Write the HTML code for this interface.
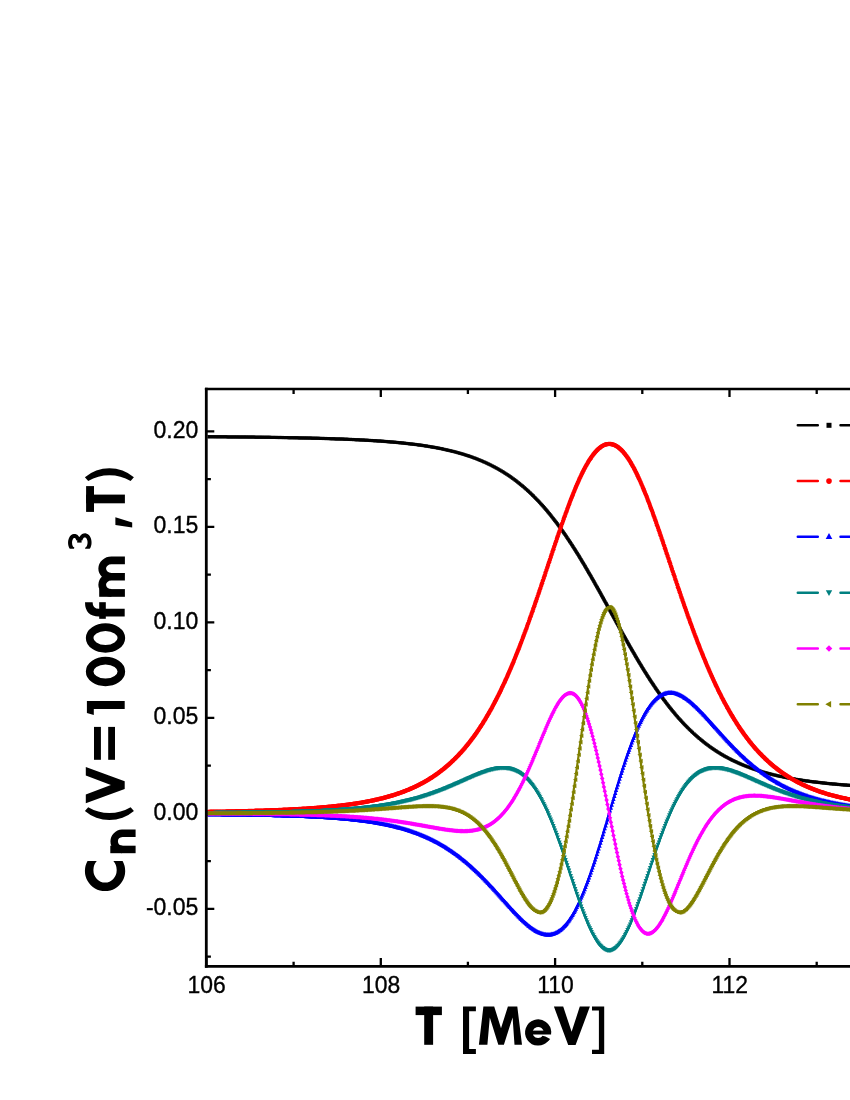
<!DOCTYPE html>
<html><head><meta charset="utf-8"><title>Cn(V=100fm3,T)</title>
<style>
html,body{margin:0;padding:0;background:#fff;}
body{width:850px;height:1100px;position:relative;overflow:hidden;font-family:"Liberation Sans",sans-serif;}
</style></head><body>
<svg width="850" height="1100" viewBox="0 0 850 1100" style="position:absolute;left:0;top:0;will-change:transform">
<rect width="850" height="1100" fill="#fff"/>
<g stroke="#000" stroke-width="2.3" fill="none">
<path d="M206.4 966.3 V958.1 M293.6 966.3 V961.8 M293.6 389.0 V393.9 M380.8 966.3 V958.1 M380.8 389.0 V397.1 M467.9 966.3 V961.8 M467.9 389.0 V393.9 M555.1 966.3 V958.1 M555.1 389.0 V397.1 M642.3 966.3 V961.8 M642.3 389.0 V393.9 M729.5 966.3 V958.1 M729.5 389.0 V397.1 M816.7 966.3 V961.8 M816.7 389.0 V393.9 M206.3 956.7 H210.9 M206.3 908.9 H214.3 M206.3 861.2 H210.9 M206.3 813.4 H214.3 M206.3 765.6 H210.9 M206.3 717.9 H214.3 M206.3 670.1 H210.9 M206.3 622.4 H214.3 M206.3 574.6 H210.9 M206.3 526.8 H214.3 M206.3 479.1 H210.9 M206.3 431.3 H214.3"/>
</g>
<clipPath id="cp"><rect x="207.6" y="380" width="650" height="590"/></clipPath><g clip-path="url(#cp)">
<defs>
<marker id="mk1" markerUnits="userSpaceOnUse" markerWidth="8" markerHeight="8" viewBox="-4 -4 8 8" refX="0" refY="0" fill="#ff0000"><circle r="2.20"/></marker>
<marker id="mk2" markerUnits="userSpaceOnUse" markerWidth="8" markerHeight="8" viewBox="-4 -4 8 8" refX="0" refY="0" fill="#0000ff"><path d="M0 -2.40 L2.10 2.20 L-2.10 2.20 Z"/></marker>
<marker id="mk3" markerUnits="userSpaceOnUse" markerWidth="8" markerHeight="8" viewBox="-4 -4 8 8" refX="0" refY="0" fill="#008080"><path d="M0 2.40 L2.10 -2.20 L-2.10 -2.20 Z"/></marker>
<marker id="mk4" markerUnits="userSpaceOnUse" markerWidth="8" markerHeight="8" viewBox="-4 -4 8 8" refX="0" refY="0" fill="#ff00ff"><path d="M0 -2.30 L2.30 0 L0 2.30 L-2.30 0 Z"/></marker>
<marker id="mk5" markerUnits="userSpaceOnUse" markerWidth="8" markerHeight="8" viewBox="-4 -4 8 8" refX="0" refY="0" fill="#808000"><path d="M-2.30 0 L2.10 -2.30 L2.10 2.30 Z"/></marker>
</defs>
<g fill="none" stroke="#000" stroke-linejoin="round"><defs><polyline id="bk" points="206.4,436.7 207.3,436.7 208.1,436.7 209.0,436.7 209.9,436.7 210.8,436.7 211.6,436.7 212.5,436.7 213.4,436.7 214.2,436.7 215.1,436.8 216.0,436.8 216.9,436.8 217.7,436.8 218.6,436.8 219.5,436.8 220.3,436.8 221.2,436.8 222.1,436.8 223.0,436.8 223.8,436.8 224.7,436.8 225.6,436.8 226.5,436.8 227.3,436.9 228.2,436.9 229.1,436.9 229.9,436.9 230.8,436.9 231.7,436.9 232.6,436.9 233.4,436.9 234.3,436.9 235.2,436.9 236.0,436.9 236.9,436.9 237.8,437.0 238.7,437.0 239.5,437.0 240.4,437.0 241.3,437.0 242.1,437.0 243.0,437.0 243.9,437.0 244.8,437.0 245.6,437.0 246.5,437.0 247.4,437.1 248.2,437.1 249.1,437.1 250.0,437.1 250.9,437.1 251.7,437.1 252.6,437.1 253.5,437.1 254.3,437.1 255.2,437.2 256.1,437.2 257.0,437.2 257.8,437.2 258.7,437.2 259.6,437.2 260.5,437.2 261.3,437.2 262.2,437.2 263.1,437.3 263.9,437.3 264.8,437.3 265.7,437.3 266.6,437.3 267.4,437.3 268.3,437.3 269.2,437.3 270.0,437.3 270.9,437.4 271.8,437.4 272.7,437.4 273.5,437.4 274.4,437.4 275.3,437.4 276.1,437.4 277.0,437.5 277.9,437.5 278.8,437.5 279.6,437.5 280.5,437.5 281.4,437.5 282.2,437.5 283.1,437.6 284.0,437.6 284.9,437.6 285.7,437.6 286.6,437.6 287.5,437.6 288.3,437.7 289.2,437.7 290.1,437.7 291.0,437.7 291.8,437.7 292.7,437.7 293.6,437.7 294.5,437.8 295.3,437.8 296.2,437.8 297.1,437.8 297.9,437.8 298.8,437.9 299.7,437.9 300.6,437.9 301.4,437.9 302.3,437.9 303.2,438.0 304.0,438.0 304.9,438.0 305.8,438.0 306.7,438.0 307.5,438.1 308.4,438.1 309.3,438.1 310.1,438.1 311.0,438.1 311.9,438.2 312.8,438.2 313.6,438.2 314.5,438.2 315.4,438.2 316.2,438.3 317.1,438.3 318.0,438.3 318.9,438.3 319.7,438.4 320.6,438.4 321.5,438.4 322.3,438.4 323.2,438.5 324.1,438.5 325.0,438.5 325.8,438.5 326.7,438.6 327.6,438.6 328.5,438.6 329.3,438.6 330.2,438.7 331.1,438.7 331.9,438.7 332.8,438.8 333.7,438.8 334.6,438.8 335.4,438.9 336.3,438.9 337.2,438.9 338.0,438.9 338.9,439.0 339.8,439.0 340.7,439.0 341.5,439.1 342.4,439.1 343.3,439.1 344.1,439.2 345.0,439.2 345.9,439.2 346.8,439.3 347.6,439.3 348.5,439.4 349.4,439.4 350.2,439.4 351.1,439.5 352.0,439.5 352.9,439.5 353.7,439.6 354.6,439.6 355.5,439.7 356.3,439.7 357.2,439.8 358.1,439.8 359.0,439.8 359.8,439.9 360.7,439.9 361.6,440.0 362.5,440.0 363.3,440.1 364.2,440.1 365.1,440.2 365.9,440.2 366.8,440.3 367.7,440.3 368.6,440.4 369.4,440.4 370.3,440.5 371.2,440.5 372.0,440.6 372.9,440.6 373.8,440.7 374.7,440.7 375.5,440.8 376.4,440.8 377.3,440.9 378.1,441.0 379.0,441.0 379.9,441.1 380.8,441.1 381.6,441.2 382.5,441.3 383.4,441.3 384.2,441.4 385.1,441.5 386.0,441.5 386.9,441.6 387.7,441.7 388.6,441.7 389.5,441.8 390.3,441.9 391.2,442.0 392.1,442.0 393.0,442.1 393.8,442.2 394.7,442.3 395.6,442.3 396.5,442.4 397.3,442.5 398.2,442.6 399.1,442.7 399.9,442.7 400.8,442.8 401.7,442.9 402.6,443.0 403.4,443.1 404.3,443.2 405.2,443.3 406.0,443.4 406.9,443.5 407.8,443.6 408.7,443.7 409.5,443.8 410.4,443.9 411.3,444.0 412.1,444.1 413.0,444.2 413.9,444.3 414.8,444.4 415.6,444.5 416.5,444.6 417.4,444.7 418.2,444.9 419.1,445.0 420.0,445.1 420.9,445.2 421.7,445.3 422.6,445.5 423.5,445.6 424.4,445.7 425.2,445.9 426.1,446.0 427.0,446.1 427.8,446.3 428.7,446.4 429.6,446.6 430.5,446.7 431.3,446.9 432.2,447.0 433.1,447.2 433.9,447.3 434.8,447.5 435.7,447.6 436.6,447.8 437.4,448.0 438.3,448.1 439.2,448.3 440.0,448.5 440.9,448.6 441.8,448.8 442.7,449.0 443.5,449.2 444.4,449.4 445.3,449.6 446.1,449.8 447.0,450.0 447.9,450.2 448.8,450.4 449.6,450.6 450.5,450.8 451.4,451.0 452.2,451.2 453.1,451.4 454.0,451.6 454.9,451.9 455.7,452.1 456.6,452.3 457.5,452.6 458.4,452.8 459.2,453.1 460.1,453.3 461.0,453.6 461.8,453.8 462.7,454.1 463.6,454.3 464.5,454.6 465.3,454.9 466.2,455.2 467.1,455.5 467.9,455.7 468.8,456.0 469.7,456.3 470.6,456.6 471.4,456.9 472.3,457.2 473.2,457.6 474.0,457.9 474.9,458.2 475.8,458.5 476.7,458.9 477.5,459.2 478.4,459.6 479.3,459.9 480.1,460.3 481.0,460.6 481.9,461.0 482.8,461.4 483.6,461.8 484.5,462.1 485.4,462.5 486.2,462.9 487.1,463.3 488.0,463.8 488.9,464.2 489.7,464.6 490.6,465.0 491.5,465.5 492.4,465.9 493.2,466.4 494.1,466.8 495.0,467.3 495.8,467.8 496.7,468.2 497.6,468.7 498.5,469.2 499.3,469.7 500.2,470.2 501.1,470.7 501.9,471.3 502.8,471.8 503.7,472.3 504.6,472.9 505.4,473.4 506.3,474.0 507.2,474.6 508.0,475.1 508.9,475.7 509.8,476.3 510.7,476.9 511.5,477.5 512.4,478.2 513.3,478.8 514.1,479.4 515.0,480.1 515.9,480.7 516.8,481.4 517.6,482.1 518.5,482.8 519.4,483.5 520.2,484.2 521.1,484.9 522.0,485.6 522.9,486.3 523.7,487.1 524.6,487.8 525.5,488.6 526.4,489.4 527.2,490.2 528.1,490.9 529.0,491.7 529.8,492.6 530.7,493.4 531.6,494.2 532.5,495.1 533.3,495.9 534.2,496.8 535.1,497.7 535.9,498.6 536.8,499.5 537.7,500.4 538.6,501.3 539.4,502.2 540.3,503.2 541.2,504.1 542.0,505.1 542.9,506.1 543.8,507.1 544.7,508.1 545.5,509.1 546.4,510.1 547.3,511.1 548.1,512.2 549.0,513.2 549.9,514.3 550.8,515.4 551.6,516.5 552.5,517.6 553.4,518.7 554.2,519.8 555.1,520.9 556.0,522.1 556.9,523.2 557.7,524.4 558.6,525.6 559.5,526.8 560.4,528.0 561.2,529.2 562.1,530.4 563.0,531.6 563.8,532.9 564.7,534.1 565.6,535.4 566.5,536.7 567.3,538.0 568.2,539.3 569.1,540.6 569.9,541.9 570.8,543.2 571.7,544.6 572.6,545.9 573.4,547.3 574.3,548.6 575.2,550.0 576.0,551.4 576.9,552.8 577.8,554.2 578.7,555.6 579.5,557.0 580.4,558.5 581.3,559.9 582.1,561.4 583.0,562.8 583.9,564.3 584.8,565.7 585.6,567.2 586.5,568.7 587.4,570.2 588.2,571.7 589.1,573.2 590.0,574.7 590.9,576.2 591.7,577.8 592.6,579.3 593.5,580.8 594.4,582.4 595.2,583.9 596.1,585.5 597.0,587.0 597.8,588.6 598.7,590.1 599.6,591.7 600.5,593.3 601.3,594.8 602.2,596.4 603.1,598.0 603.9,599.6 604.8,601.2 605.7,602.7 606.6,604.3 607.4,605.9 608.3,607.5 609.2,609.1 610.0,610.7 610.9,612.3 611.8,613.9 612.7,615.5 613.5,617.0 614.4,618.6 615.3,620.2 616.1,621.8 617.0,623.4 617.9,625.0 618.8,626.6 619.6,628.1 620.5,629.7 621.4,631.3 622.2,632.8 623.1,634.4 624.0,636.0 624.9,637.5 625.7,639.1 626.6,640.6 627.5,642.2 628.4,643.7 629.2,645.2 630.1,646.8 631.0,648.3 631.8,649.8 632.7,651.3 633.6,652.8 634.5,654.3 635.3,655.8 636.2,657.3 637.1,658.8 637.9,660.2 638.8,661.7 639.7,663.2 640.6,664.6 641.4,666.0 642.3,667.5 643.2,668.9 644.0,670.3 644.9,671.7 645.8,673.1 646.7,674.5 647.5,675.9 648.4,677.2 649.3,678.6 650.1,679.9 651.0,681.3 651.9,682.6 652.8,683.9 653.6,685.2 654.5,686.5 655.4,687.8 656.2,689.1 657.1,690.3 658.0,691.6 658.9,692.8 659.7,694.1 660.6,695.3 661.5,696.5 662.4,697.7 663.2,698.9 664.1,700.1 665.0,701.2 665.8,702.4 666.7,703.5 667.6,704.7 668.5,705.8 669.3,706.9 670.2,708.0 671.1,709.1 671.9,710.2 672.8,711.2 673.7,712.3 674.6,713.3 675.4,714.4 676.3,715.4 677.2,716.4 678.0,717.4 678.9,718.4 679.8,719.4 680.7,720.3 681.5,721.3 682.4,722.2 683.3,723.2 684.1,724.1 685.0,725.0 685.9,725.9 686.8,726.8 687.6,727.7 688.5,728.5 689.4,729.4 690.2,730.2 691.1,731.1 692.0,731.9 692.9,732.7 693.7,733.5 694.6,734.3 695.5,735.1 696.4,735.9 697.2,736.6 698.1,737.4 699.0,738.1 699.8,738.9 700.7,739.6 701.6,740.3 702.5,741.0 703.3,741.7 704.2,742.4 705.1,743.1 705.9,743.8 706.8,744.4 707.7,745.1 708.6,745.7 709.4,746.4 710.3,747.0 711.2,747.6 712.0,748.2 712.9,748.8 713.8,749.4 714.7,750.0 715.5,750.6 716.4,751.1 717.3,751.7 718.1,752.2 719.0,752.8 719.9,753.3 720.8,753.9 721.6,754.4 722.5,754.9 723.4,755.4 724.2,755.9 725.1,756.4 726.0,756.9 726.9,757.3 727.7,757.8 728.6,758.3 729.5,758.7 730.4,759.2 731.2,759.6 732.1,760.1 733.0,760.5 733.8,760.9 734.7,761.3 735.6,761.7 736.5,762.1 737.3,762.5 738.2,762.9 739.1,763.3 739.9,763.7 740.8,764.1 741.7,764.5 742.6,764.8 743.4,765.2 744.3,765.5 745.2,765.9 746.0,766.2 746.9,766.6 747.8,766.9 748.7,767.2 749.5,767.5 750.4,767.9 751.3,768.2 752.1,768.5 753.0,768.8 753.9,769.1 754.8,769.4 755.6,769.7 756.5,770.0 757.4,770.2 758.2,770.5 759.1,770.8 760.0,771.1 760.9,771.3 761.7,771.6 762.6,771.9 763.5,772.1 764.4,772.4 765.2,772.6 766.1,772.8 767.0,773.1 767.8,773.3 768.7,773.6 769.6,773.8 770.5,774.0 771.3,774.2 772.2,774.4 773.1,774.7 773.9,774.9 774.8,775.1 775.7,775.3 776.6,775.5 777.4,775.7 778.3,775.9 779.2,776.1 780.0,776.3 780.9,776.5 781.8,776.6 782.7,776.8 783.5,777.0 784.4,777.2 785.3,777.4 786.1,777.5 787.0,777.7 787.9,777.9 788.8,778.0 789.6,778.2 790.5,778.4 791.4,778.5 792.2,778.7 793.1,778.8 794.0,779.0 794.9,779.1 795.7,779.3 796.6,779.4 797.5,779.6 798.4,779.7 799.2,779.8 800.1,780.0 801.0,780.1 801.8,780.2 802.7,780.4 803.6,780.5 804.5,780.6 805.3,780.8 806.2,780.9 807.1,781.0 807.9,781.1 808.8,781.2 809.7,781.4 810.6,781.5 811.4,781.6 812.3,781.7 813.2,781.8 814.0,781.9 814.9,782.0 815.8,782.1 816.7,782.2 817.5,782.3 818.4,782.4 819.3,782.5 820.1,782.6 821.0,782.7 821.9,782.8 822.8,782.9 823.6,783.0 824.5,783.1 825.4,783.2 826.2,783.3 827.1,783.4 828.0,783.5 828.9,783.6 829.7,783.7 830.6,783.7 831.5,783.8 832.4,783.9 833.2,784.0 834.1,784.1 835.0,784.1 835.8,784.2 836.7,784.3 837.6,784.4 838.5,784.5 839.3,784.5 840.2,784.6 841.1,784.7 841.9,784.7 842.8,784.8 843.7,784.9 844.6,785.0 845.4,785.0 846.3,785.1 847.2,785.2 848.0,785.2 848.9,785.3 849.8,785.4 850.7,785.4 851.5,785.5 852.4,785.5 853.3,785.6 854.1,785.7 855.0,785.7 855.9,785.8 856.8,785.8 857.6,785.9 858.5,786.0 859.4,786.0 860.3,786.1 861.1,786.1 862.0,786.2 862.9,786.2 863.7,786.3 864.6,786.4 865.5,786.4 866.4,786.5 867.2,786.5 868.1,786.6"/></defs><use href="#bk" stroke-width="3.0"/>
<use href="#bk" stroke-width="0.8" transform="translate(1.1,1.1)"/>
<use href="#bk" stroke-width="0.8" transform="translate(1.1,-1.1)"/>
<use href="#bk" stroke-width="0.8" transform="translate(-1.1,1.1)"/>
<use href="#bk" stroke-width="0.8" transform="translate(-1.1,-1.1)"/>
</g>
<polyline fill="none" stroke="#ff0000" stroke-width="2.2" stroke-linejoin="round" marker-start="url(#mk1)" marker-mid="url(#mk1)" points="206.4,811.9 207.3,811.9 208.1,811.9 209.0,811.9 209.9,811.8 210.8,811.8 211.6,811.8 212.5,811.8 213.4,811.8 214.2,811.8 215.1,811.7 216.0,811.7 216.9,811.7 217.7,811.7 218.6,811.7 219.5,811.7 220.3,811.7 221.2,811.6 222.1,811.6 223.0,811.6 223.8,811.6 224.7,811.6 225.6,811.6 226.5,811.5 227.3,811.5 228.2,811.5 229.1,811.5 229.9,811.5 230.8,811.5 231.7,811.4 232.6,811.4 233.4,811.4 234.3,811.4 235.2,811.4 236.0,811.3 236.9,811.3 237.8,811.3 238.7,811.3 239.5,811.3 240.4,811.2 241.3,811.2 242.1,811.2 243.0,811.2 243.9,811.1 244.8,811.1 245.6,811.1 246.5,811.1 247.4,811.1 248.2,811.0 249.1,811.0 250.0,811.0 250.9,811.0 251.7,810.9 252.6,810.9 253.5,810.9 254.3,810.9 255.2,810.8 256.1,810.8 257.0,810.8 257.8,810.8 258.7,810.7 259.6,810.7 260.5,810.7 261.3,810.7 262.2,810.6 263.1,810.6 263.9,810.6 264.8,810.5 265.7,810.5 266.6,810.5 267.4,810.4 268.3,810.4 269.2,810.4 270.0,810.4 270.9,810.3 271.8,810.3 272.7,810.3 273.5,810.2 274.4,810.2 275.3,810.2 276.1,810.1 277.0,810.1 277.9,810.1 278.8,810.0 279.6,810.0 280.5,809.9 281.4,809.9 282.2,809.9 283.1,809.8 284.0,809.8 284.9,809.7 285.7,809.7 286.6,809.7 287.5,809.6 288.3,809.6 289.2,809.5 290.1,809.5 291.0,809.5 291.8,809.4 292.7,809.4 293.6,809.3 294.5,809.3 295.3,809.2 296.2,809.2 297.1,809.1 297.9,809.1 298.8,809.0 299.7,809.0 300.6,808.9 301.4,808.9 302.3,808.8 303.2,808.8 304.0,808.7 304.9,808.7 305.8,808.6 306.7,808.6 307.5,808.5 308.4,808.4 309.3,808.4 310.1,808.3 311.0,808.3 311.9,808.2 312.8,808.1 313.6,808.1 314.5,808.0 315.4,807.9 316.2,807.9 317.1,807.8 318.0,807.7 318.9,807.7 319.7,807.6 320.6,807.5 321.5,807.5 322.3,807.4 323.2,807.3 324.1,807.2 325.0,807.2 325.8,807.1 326.7,807.0 327.6,806.9 328.5,806.8 329.3,806.8 330.2,806.7 331.1,806.6 331.9,806.5 332.8,806.4 333.7,806.3 334.6,806.2 335.4,806.1 336.3,806.0 337.2,805.9 338.0,805.8 338.9,805.8 339.8,805.7 340.7,805.6 341.5,805.4 342.4,805.3 343.3,805.2 344.1,805.1 345.0,805.0 345.9,804.9 346.8,804.8 347.6,804.7 348.5,804.6 349.4,804.4 350.2,804.3 351.1,804.2 352.0,804.1 352.9,804.0 353.7,803.8 354.6,803.7 355.5,803.6 356.3,803.4 357.2,803.3 358.1,803.1 359.0,803.0 359.8,802.9 360.7,802.7 361.6,802.6 362.5,802.4 363.3,802.3 364.2,802.1 365.1,802.0 365.9,801.8 366.8,801.6 367.7,801.5 368.6,801.3 369.4,801.1 370.3,800.9 371.2,800.8 372.0,800.6 372.9,800.4 373.8,800.2 374.7,800.0 375.5,799.8 376.4,799.6 377.3,799.4 378.1,799.2 379.0,799.0 379.9,798.8 380.8,798.6 381.6,798.4 382.5,798.2 383.4,798.0 384.2,797.7 385.1,797.5 386.0,797.3 386.9,797.0 387.7,796.8 388.6,796.5 389.5,796.3 390.3,796.0 391.2,795.8 392.1,795.5 393.0,795.2 393.8,795.0 394.7,794.7 395.6,794.4 396.5,794.1 397.3,793.8 398.2,793.5 399.1,793.2 399.9,792.9 400.8,792.6 401.7,792.3 402.6,792.0 403.4,791.7 404.3,791.3 405.2,791.0 406.0,790.6 406.9,790.3 407.8,789.9 408.7,789.6 409.5,789.2 410.4,788.8 411.3,788.5 412.1,788.1 413.0,787.7 413.9,787.3 414.8,786.9 415.6,786.5 416.5,786.0 417.4,785.6 418.2,785.2 419.1,784.7 420.0,784.3 420.9,783.8 421.7,783.4 422.6,782.9 423.5,782.4 424.4,781.9 425.2,781.4 426.1,780.9 427.0,780.4 427.8,779.9 428.7,779.4 429.6,778.8 430.5,778.3 431.3,777.7 432.2,777.2 433.1,776.6 433.9,776.0 434.8,775.4 435.7,774.8 436.6,774.2 437.4,773.6 438.3,772.9 439.2,772.3 440.0,771.6 440.9,771.0 441.8,770.3 442.7,769.6 443.5,768.9 444.4,768.2 445.3,767.5 446.1,766.8 447.0,766.0 447.9,765.3 448.8,764.5 449.6,763.7 450.5,762.9 451.4,762.1 452.2,761.3 453.1,760.5 454.0,759.6 454.9,758.8 455.7,757.9 456.6,757.0 457.5,756.1 458.4,755.2 459.2,754.3 460.1,753.3 461.0,752.4 461.8,751.4 462.7,750.4 463.6,749.4 464.5,748.4 465.3,747.4 466.2,746.3 467.1,745.3 467.9,744.2 468.8,743.1 469.7,742.0 470.6,740.8 471.4,739.7 472.3,738.5 473.2,737.4 474.0,736.2 474.9,735.0 475.8,733.7 476.7,732.5 477.5,731.2 478.4,729.9 479.3,728.6 480.1,727.3 481.0,725.9 481.9,724.6 482.8,723.2 483.6,721.8 484.5,720.4 485.4,719.0 486.2,717.5 487.1,716.0 488.0,714.5 488.9,713.0 489.7,711.5 490.6,709.9 491.5,708.4 492.4,706.8 493.2,705.1 494.1,703.5 495.0,701.8 495.8,700.2 496.7,698.5 497.6,696.7 498.5,695.0 499.3,693.2 500.2,691.5 501.1,689.7 501.9,687.8 502.8,686.0 503.7,684.1 504.6,682.2 505.4,680.3 506.3,678.4 507.2,676.4 508.0,674.5 508.9,672.5 509.8,670.4 510.7,668.4 511.5,666.4 512.4,664.3 513.3,662.2 514.1,660.1 515.0,657.9 515.9,655.8 516.8,653.6 517.6,651.4 518.5,649.2 519.4,646.9 520.2,644.7 521.1,642.4 522.0,640.1 522.9,637.8 523.7,635.5 524.6,633.1 525.5,630.8 526.4,628.4 527.2,626.0 528.1,623.6 529.0,621.1 529.8,618.7 530.7,616.2 531.6,613.8 532.5,611.3 533.3,608.8 534.2,606.3 535.1,603.7 535.9,601.2 536.8,598.7 537.7,596.1 538.6,593.5 539.4,591.0 540.3,588.4 541.2,585.8 542.0,583.2 542.9,580.6 543.8,578.0 544.7,575.4 545.5,572.8 546.4,570.1 547.3,567.5 548.1,564.9 549.0,562.3 549.9,559.7 550.8,557.0 551.6,554.4 552.5,551.8 553.4,549.2 554.2,546.6 555.1,544.0 556.0,541.4 556.9,538.8 557.7,536.3 558.6,533.7 559.5,531.2 560.4,528.6 561.2,526.1 562.1,523.6 563.0,521.1 563.8,518.7 564.7,516.2 565.6,513.8 566.5,511.4 567.3,509.0 568.2,506.7 569.1,504.3 569.9,502.0 570.8,499.8 571.7,497.5 572.6,495.3 573.4,493.1 574.3,491.0 575.2,488.8 576.0,486.8 576.9,484.7 577.8,482.7 578.7,480.7 579.5,478.8 580.4,476.9 581.3,475.1 582.1,473.3 583.0,471.5 583.9,469.8 584.8,468.1 585.6,466.5 586.5,464.9 587.4,463.4 588.2,461.9 589.1,460.5 590.0,459.2 590.9,457.9 591.7,456.6 592.6,455.4 593.5,454.3 594.4,453.2 595.2,452.1 596.1,451.2 597.0,450.2 597.8,449.4 598.7,448.6 599.6,447.9 600.5,447.2 601.3,446.6 602.2,446.0 603.1,445.6 603.9,445.1 604.8,444.8 605.7,444.5 606.6,444.2 607.4,444.1 608.3,444.0 609.2,443.9 610.0,444.0 610.9,444.0 611.8,444.2 612.7,444.4 613.5,444.7 614.4,445.0 615.3,445.4 616.1,445.9 617.0,446.4 617.9,447.0 618.8,447.7 619.6,448.4 620.5,449.2 621.4,450.0 622.2,450.9 623.1,451.8 624.0,452.9 624.9,453.9 625.7,455.1 626.6,456.2 627.5,457.5 628.4,458.8 629.2,460.1 630.1,461.5 631.0,463.0 631.8,464.5 632.7,466.0 633.6,467.6 634.5,469.3 635.3,471.0 636.2,472.7 637.1,474.5 637.9,476.3 638.8,478.2 639.7,480.1 640.6,482.1 641.4,484.1 642.3,486.1 643.2,488.2 644.0,490.3 644.9,492.4 645.8,494.6 646.7,496.8 647.5,499.0 648.4,501.3 649.3,503.6 650.1,505.9 651.0,508.2 651.9,510.6 652.8,513.0 653.6,515.4 654.5,517.8 655.4,520.3 656.2,522.7 657.1,525.2 658.0,527.7 658.9,530.2 659.7,532.8 660.6,535.3 661.5,537.9 662.4,540.4 663.2,543.0 664.1,545.6 665.0,548.2 665.8,550.8 666.7,553.4 667.6,556.0 668.5,558.6 669.3,561.2 670.2,563.8 671.1,566.4 671.9,569.0 672.8,571.6 673.7,574.2 674.6,576.8 675.4,579.4 676.3,582.0 677.2,584.6 678.0,587.2 678.9,589.8 679.8,592.3 680.7,594.9 681.5,597.4 682.4,600.0 683.3,602.5 684.1,605.0 685.0,607.5 685.9,610.0 686.8,612.5 687.6,614.9 688.5,617.4 689.4,619.8 690.2,622.2 691.1,624.6 692.0,627.0 692.9,629.4 693.7,631.7 694.6,634.1 695.5,636.4 696.4,638.7 697.2,641.0 698.1,643.3 699.0,645.5 699.8,647.7 700.7,649.9 701.6,652.1 702.5,654.3 703.3,656.5 704.2,658.6 705.1,660.7 705.9,662.8 706.8,664.9 707.7,666.9 708.6,668.9 709.4,670.9 710.3,672.9 711.2,674.9 712.0,676.8 712.9,678.8 713.8,680.7 714.7,682.6 715.5,684.4 716.4,686.3 717.3,688.1 718.1,689.9 719.0,691.7 719.9,693.4 720.8,695.1 721.6,696.9 722.5,698.6 723.4,700.2 724.2,701.9 725.1,703.5 726.0,705.1 726.9,706.7 727.7,708.3 728.6,709.8 729.5,711.4 730.4,712.9 731.2,714.4 732.1,715.8 733.0,717.3 733.8,718.7 734.7,720.1 735.6,721.5 736.5,722.9 737.3,724.3 738.2,725.6 739.1,726.9 739.9,728.2 740.8,729.5 741.7,730.8 742.6,732.0 743.4,733.2 744.3,734.4 745.2,735.6 746.0,736.8 746.9,738.0 747.8,739.1 748.7,740.2 749.5,741.4 750.4,742.4 751.3,743.5 752.1,744.6 753.0,745.6 753.9,746.7 754.8,747.7 755.6,748.7 756.5,749.6 757.4,750.6 758.2,751.6 759.1,752.5 760.0,753.4 760.9,754.3 761.7,755.2 762.6,756.1 763.5,757.0 764.4,757.8 765.2,758.7 766.1,759.5 767.0,760.3 767.8,761.1 768.7,761.9 769.6,762.7 770.5,763.5 771.3,764.2 772.2,765.0 773.1,765.7 773.9,766.4 774.8,767.1 775.7,767.8 776.6,768.5 777.4,769.2 778.3,769.8 779.2,770.5 780.0,771.1 780.9,771.8 781.8,772.4 782.7,773.0 783.5,773.6 784.4,774.2 785.3,774.8 786.1,775.3 787.0,775.9 787.9,776.5 788.8,777.0 789.6,777.5 790.5,778.1 791.4,778.6 792.2,779.1 793.1,779.6 794.0,780.1 794.9,780.6 795.7,781.1 796.6,781.5 797.5,782.0 798.4,782.4 799.2,782.9 800.1,783.3 801.0,783.8 801.8,784.2 802.7,784.6 803.6,785.0 804.5,785.4 805.3,785.8 806.2,786.2 807.1,786.6 807.9,787.0 808.8,787.3 809.7,787.7 810.6,788.1 811.4,788.4 812.3,788.8 813.2,789.1 814.0,789.5 814.9,789.8 815.8,790.1 816.7,790.4 817.5,790.7 818.4,791.1 819.3,791.4 820.1,791.7 821.0,792.0 821.9,792.2 822.8,792.5 823.6,792.8 824.5,793.1 825.4,793.4 826.2,793.6 827.1,793.9 828.0,794.2 828.9,794.4 829.7,794.7 830.6,794.9 831.5,795.1 832.4,795.4 833.2,795.6 834.1,795.8 835.0,796.1 835.8,796.3 836.7,796.5 837.6,796.7 838.5,796.9 839.3,797.1 840.2,797.4 841.1,797.6 841.9,797.8 842.8,797.9 843.7,798.1 844.6,798.3 845.4,798.5 846.3,798.7 847.2,798.9 848.0,799.1 848.9,799.2 849.8,799.4 850.7,799.6 851.5,799.7 852.4,799.9 853.3,800.1 854.1,800.2 855.0,800.4 855.9,800.5 856.8,800.7 857.6,800.8 858.5,801.0 859.4,801.1 860.3,801.3 861.1,801.4 862.0,801.5 862.9,801.7 863.7,801.8 864.6,801.9 865.5,802.1 866.4,802.2 867.2,802.3 868.1,802.4"/>
<polyline fill="none" stroke="#0000ff" stroke-width="2.2" stroke-linejoin="round" marker-start="url(#mk2)" marker-mid="url(#mk2)" points="206.4,814.0 207.3,814.0 208.1,814.0 209.0,814.0 209.9,814.0 210.8,814.1 211.6,814.1 212.5,814.1 213.4,814.1 214.2,814.1 215.1,814.1 216.0,814.1 216.9,814.1 217.7,814.1 218.6,814.1 219.5,814.1 220.3,814.1 221.2,814.1 222.1,814.2 223.0,814.2 223.8,814.2 224.7,814.2 225.6,814.2 226.5,814.2 227.3,814.2 228.2,814.2 229.1,814.2 229.9,814.2 230.8,814.2 231.7,814.3 232.6,814.3 233.4,814.3 234.3,814.3 235.2,814.3 236.0,814.3 236.9,814.3 237.8,814.3 238.7,814.3 239.5,814.4 240.4,814.4 241.3,814.4 242.1,814.4 243.0,814.4 243.9,814.4 244.8,814.4 245.6,814.4 246.5,814.4 247.4,814.5 248.2,814.5 249.1,814.5 250.0,814.5 250.9,814.5 251.7,814.5 252.6,814.5 253.5,814.6 254.3,814.6 255.2,814.6 256.1,814.6 257.0,814.6 257.8,814.6 258.7,814.6 259.6,814.7 260.5,814.7 261.3,814.7 262.2,814.7 263.1,814.7 263.9,814.7 264.8,814.8 265.7,814.8 266.6,814.8 267.4,814.8 268.3,814.8 269.2,814.9 270.0,814.9 270.9,814.9 271.8,814.9 272.7,814.9 273.5,815.0 274.4,815.0 275.3,815.0 276.1,815.0 277.0,815.0 277.9,815.1 278.8,815.1 279.6,815.1 280.5,815.1 281.4,815.1 282.2,815.2 283.1,815.2 284.0,815.2 284.9,815.2 285.7,815.3 286.6,815.3 287.5,815.3 288.3,815.4 289.2,815.4 290.1,815.4 291.0,815.4 291.8,815.5 292.7,815.5 293.6,815.5 294.5,815.5 295.3,815.6 296.2,815.6 297.1,815.6 297.9,815.7 298.8,815.7 299.7,815.7 300.6,815.8 301.4,815.8 302.3,815.8 303.2,815.9 304.0,815.9 304.9,815.9 305.8,816.0 306.7,816.0 307.5,816.1 308.4,816.1 309.3,816.1 310.1,816.2 311.0,816.2 311.9,816.3 312.8,816.3 313.6,816.3 314.5,816.4 315.4,816.4 316.2,816.5 317.1,816.5 318.0,816.6 318.9,816.6 319.7,816.7 320.6,816.7 321.5,816.8 322.3,816.8 323.2,816.9 324.1,816.9 325.0,817.0 325.8,817.0 326.7,817.1 327.6,817.1 328.5,817.2 329.3,817.3 330.2,817.3 331.1,817.4 331.9,817.4 332.8,817.5 333.7,817.6 334.6,817.6 335.4,817.7 336.3,817.8 337.2,817.8 338.0,817.9 338.9,818.0 339.8,818.0 340.7,818.1 341.5,818.2 342.4,818.3 343.3,818.3 344.1,818.4 345.0,818.5 345.9,818.6 346.8,818.7 347.6,818.8 348.5,818.8 349.4,818.9 350.2,819.0 351.1,819.1 352.0,819.2 352.9,819.3 353.7,819.4 354.6,819.5 355.5,819.6 356.3,819.7 357.2,819.8 358.1,819.9 359.0,820.0 359.8,820.1 360.7,820.2 361.6,820.3 362.5,820.4 363.3,820.5 364.2,820.7 365.1,820.8 365.9,820.9 366.8,821.0 367.7,821.1 368.6,821.3 369.4,821.4 370.3,821.5 371.2,821.7 372.0,821.8 372.9,821.9 373.8,822.1 374.7,822.2 375.5,822.4 376.4,822.5 377.3,822.7 378.1,822.8 379.0,823.0 379.9,823.1 380.8,823.3 381.6,823.5 382.5,823.6 383.4,823.8 384.2,824.0 385.1,824.1 386.0,824.3 386.9,824.5 387.7,824.7 388.6,824.9 389.5,825.1 390.3,825.3 391.2,825.5 392.1,825.7 393.0,825.9 393.8,826.1 394.7,826.3 395.6,826.5 396.5,826.7 397.3,827.0 398.2,827.2 399.1,827.4 399.9,827.6 400.8,827.9 401.7,828.1 402.6,828.4 403.4,828.6 404.3,828.9 405.2,829.1 406.0,829.4 406.9,829.7 407.8,829.9 408.7,830.2 409.5,830.5 410.4,830.8 411.3,831.1 412.1,831.4 413.0,831.7 413.9,832.0 414.8,832.3 415.6,832.6 416.5,832.9 417.4,833.3 418.2,833.6 419.1,833.9 420.0,834.3 420.9,834.6 421.7,835.0 422.6,835.3 423.5,835.7 424.4,836.1 425.2,836.5 426.1,836.8 427.0,837.2 427.8,837.6 428.7,838.0 429.6,838.4 430.5,838.8 431.3,839.3 432.2,839.7 433.1,840.1 433.9,840.6 434.8,841.0 435.7,841.5 436.6,841.9 437.4,842.4 438.3,842.9 439.2,843.4 440.0,843.8 440.9,844.3 441.8,844.8 442.7,845.4 443.5,845.9 444.4,846.4 445.3,846.9 446.1,847.5 447.0,848.0 447.9,848.6 448.8,849.1 449.6,849.7 450.5,850.3 451.4,850.9 452.2,851.5 453.1,852.1 454.0,852.7 454.9,853.3 455.7,853.9 456.6,854.6 457.5,855.2 458.4,855.9 459.2,856.5 460.1,857.2 461.0,857.9 461.8,858.6 462.7,859.3 463.6,860.0 464.5,860.7 465.3,861.4 466.2,862.1 467.1,862.9 467.9,863.6 468.8,864.4 469.7,865.1 470.6,865.9 471.4,866.7 472.3,867.5 473.2,868.3 474.0,869.1 474.9,869.9 475.8,870.7 476.7,871.5 477.5,872.3 478.4,873.2 479.3,874.0 480.1,874.9 481.0,875.8 481.9,876.6 482.8,877.5 483.6,878.4 484.5,879.3 485.4,880.2 486.2,881.1 487.1,882.0 488.0,882.9 488.9,883.8 489.7,884.8 490.6,885.7 491.5,886.6 492.4,887.6 493.2,888.5 494.1,889.5 495.0,890.4 495.8,891.4 496.7,892.4 497.6,893.3 498.5,894.3 499.3,895.3 500.2,896.2 501.1,897.2 501.9,898.2 502.8,899.2 503.7,900.1 504.6,901.1 505.4,902.1 506.3,903.1 507.2,904.0 508.0,905.0 508.9,906.0 509.8,906.9 510.7,907.9 511.5,908.8 512.4,909.8 513.3,910.7 514.1,911.7 515.0,912.6 515.9,913.5 516.8,914.4 517.6,915.3 518.5,916.2 519.4,917.1 520.2,918.0 521.1,918.8 522.0,919.7 522.9,920.5 523.7,921.3 524.6,922.1 525.5,922.9 526.4,923.7 527.2,924.4 528.1,925.2 529.0,925.9 529.8,926.5 530.7,927.2 531.6,927.9 532.5,928.5 533.3,929.1 534.2,929.6 535.1,930.2 535.9,930.7 536.8,931.2 537.7,931.6 538.6,932.1 539.4,932.4 540.3,932.8 541.2,933.1 542.0,933.4 542.9,933.7 543.8,933.9 544.7,934.1 545.5,934.2 546.4,934.3 547.3,934.4 548.1,934.4 549.0,934.4 549.9,934.3 550.8,934.2 551.6,934.0 552.5,933.8 553.4,933.6 554.2,933.3 555.1,932.9 556.0,932.5 556.9,932.1 557.7,931.6 558.6,931.0 559.5,930.4 560.4,929.8 561.2,929.1 562.1,928.3 563.0,927.5 563.8,926.6 564.7,925.7 565.6,924.7 566.5,923.7 567.3,922.6 568.2,921.4 569.1,920.2 569.9,919.0 570.8,917.6 571.7,916.3 572.6,914.8 573.4,913.3 574.3,911.8 575.2,910.2 576.0,908.5 576.9,906.8 577.8,905.0 578.7,903.2 579.5,901.3 580.4,899.4 581.3,897.4 582.1,895.4 583.0,893.3 583.9,891.2 584.8,889.0 585.6,886.7 586.5,884.4 587.4,882.1 588.2,879.7 589.1,877.3 590.0,874.9 590.9,872.4 591.7,869.8 592.6,867.3 593.5,864.6 594.4,862.0 595.2,859.3 596.1,856.6 597.0,853.9 597.8,851.1 598.7,848.3 599.6,845.5 600.5,842.6 601.3,839.8 602.2,836.9 603.1,834.0 603.9,831.1 604.8,828.1 605.7,825.2 606.6,822.3 607.4,819.3 608.3,816.4 609.2,813.4 610.0,810.4 610.9,807.5 611.8,804.5 612.7,801.6 613.5,798.7 614.4,795.7 615.3,792.8 616.1,789.9 617.0,787.0 617.9,784.2 618.8,781.3 619.6,778.5 620.5,775.7 621.4,772.9 622.2,770.2 623.1,767.5 624.0,764.8 624.9,762.2 625.7,759.5 626.6,757.0 627.5,754.4 628.4,751.9 629.2,749.5 630.1,747.1 631.0,744.7 631.8,742.4 632.7,740.1 633.6,737.8 634.5,735.6 635.3,733.5 636.2,731.4 637.1,729.4 637.9,727.4 638.8,725.5 639.7,723.6 640.6,721.8 641.4,720.0 642.3,718.3 643.2,716.6 644.0,715.0 644.9,713.5 645.8,712.0 646.7,710.5 647.5,709.2 648.4,707.8 649.3,706.6 650.1,705.4 651.0,704.2 651.9,703.1 652.8,702.1 653.6,701.1 654.5,700.2 655.4,699.3 656.2,698.5 657.1,697.7 658.0,697.0 658.9,696.4 659.7,695.8 660.6,695.2 661.5,694.7 662.4,694.3 663.2,693.9 664.1,693.5 665.0,693.2 665.8,693.0 666.7,692.8 667.6,692.6 668.5,692.5 669.3,692.4 670.2,692.4 671.1,692.4 671.9,692.5 672.8,692.6 673.7,692.7 674.6,692.9 675.4,693.1 676.3,693.4 677.2,693.7 678.0,694.0 678.9,694.4 679.8,694.7 680.7,695.2 681.5,695.6 682.4,696.1 683.3,696.6 684.1,697.2 685.0,697.7 685.9,698.3 686.8,698.9 687.6,699.6 688.5,700.3 689.4,700.9 690.2,701.6 691.1,702.4 692.0,703.1 692.9,703.9 693.7,704.7 694.6,705.5 695.5,706.3 696.4,707.1 697.2,708.0 698.1,708.8 699.0,709.7 699.8,710.6 700.7,711.5 701.6,712.4 702.5,713.3 703.3,714.2 704.2,715.1 705.1,716.1 705.9,717.0 706.8,718.0 707.7,718.9 708.6,719.9 709.4,720.8 710.3,721.8 711.2,722.8 712.0,723.7 712.9,724.7 713.8,725.7 714.7,726.7 715.5,727.6 716.4,728.6 717.3,729.6 718.1,730.6 719.0,731.5 719.9,732.5 720.8,733.5 721.6,734.4 722.5,735.4 723.4,736.4 724.2,737.3 725.1,738.3 726.0,739.2 726.9,740.2 727.7,741.1 728.6,742.0 729.5,743.0 730.4,743.9 731.2,744.8 732.1,745.7 733.0,746.6 733.8,747.5 734.7,748.4 735.6,749.3 736.5,750.2 737.3,751.0 738.2,751.9 739.1,752.8 739.9,753.6 740.8,754.5 741.7,755.3 742.6,756.1 743.4,756.9 744.3,757.7 745.2,758.5 746.0,759.3 746.9,760.1 747.8,760.9 748.7,761.7 749.5,762.4 750.4,763.2 751.3,763.9 752.1,764.7 753.0,765.4 753.9,766.1 754.8,766.8 755.6,767.5 756.5,768.2 757.4,768.9 758.2,769.6 759.1,770.3 760.0,770.9 760.9,771.6 761.7,772.2 762.6,772.9 763.5,773.5 764.4,774.1 765.2,774.7 766.1,775.3 767.0,775.9 767.8,776.5 768.7,777.1 769.6,777.7 770.5,778.2 771.3,778.8 772.2,779.3 773.1,779.9 773.9,780.4 774.8,780.9 775.7,781.4 776.6,782.0 777.4,782.5 778.3,783.0 779.2,783.4 780.0,783.9 780.9,784.4 781.8,784.9 782.7,785.3 783.5,785.8 784.4,786.2 785.3,786.7 786.1,787.1 787.0,787.5 787.9,788.0 788.8,788.4 789.6,788.8 790.5,789.2 791.4,789.6 792.2,790.0 793.1,790.3 794.0,790.7 794.9,791.1 795.7,791.5 796.6,791.8 797.5,792.2 798.4,792.5 799.2,792.9 800.1,793.2 801.0,793.5 801.8,793.9 802.7,794.2 803.6,794.5 804.5,794.8 805.3,795.1 806.2,795.4 807.1,795.7 807.9,796.0 808.8,796.3 809.7,796.6 810.6,796.9 811.4,797.1 812.3,797.4 813.2,797.7 814.0,797.9 814.9,798.2 815.8,798.4 816.7,798.7 817.5,798.9 818.4,799.2 819.3,799.4 820.1,799.6 821.0,799.8 821.9,800.1 822.8,800.3 823.6,800.5 824.5,800.7 825.4,800.9 826.2,801.1 827.1,801.3 828.0,801.5 828.9,801.7 829.7,801.9 830.6,802.1 831.5,802.3 832.4,802.5 833.2,802.7 834.1,802.8 835.0,803.0 835.8,803.2 836.7,803.3 837.6,803.5 838.5,803.7 839.3,803.8 840.2,804.0 841.1,804.1 841.9,804.3 842.8,804.4 843.7,804.6 844.6,804.7 845.4,804.9 846.3,805.0 847.2,805.1 848.0,805.3 848.9,805.4 849.8,805.5 850.7,805.7 851.5,805.8 852.4,805.9 853.3,806.0 854.1,806.1 855.0,806.3 855.9,806.4 856.8,806.5 857.6,806.6 858.5,806.7 859.4,806.8 860.3,806.9 861.1,807.0 862.0,807.1 862.9,807.2 863.7,807.3 864.6,807.4 865.5,807.5 866.4,807.6 867.2,807.7 868.1,807.8"/>
<polyline fill="none" stroke="#008080" stroke-width="2.2" stroke-linejoin="round" marker-start="url(#mk3)" marker-mid="url(#mk3)" points="206.4,813.1 207.3,813.1 208.1,813.1 209.0,813.1 209.9,813.1 210.8,813.1 211.6,813.1 212.5,813.1 213.4,813.1 214.2,813.1 215.1,813.0 216.0,813.0 216.9,813.0 217.7,813.0 218.6,813.0 219.5,813.0 220.3,813.0 221.2,813.0 222.1,813.0 223.0,813.0 223.8,813.0 224.7,813.0 225.6,813.0 226.5,813.0 227.3,813.0 228.2,813.0 229.1,813.0 229.9,813.0 230.8,812.9 231.7,812.9 232.6,812.9 233.4,812.9 234.3,812.9 235.2,812.9 236.0,812.9 236.9,812.9 237.8,812.9 238.7,812.9 239.5,812.9 240.4,812.9 241.3,812.9 242.1,812.9 243.0,812.8 243.9,812.8 244.8,812.8 245.6,812.8 246.5,812.8 247.4,812.8 248.2,812.8 249.1,812.8 250.0,812.8 250.9,812.8 251.7,812.8 252.6,812.7 253.5,812.7 254.3,812.7 255.2,812.7 256.1,812.7 257.0,812.7 257.8,812.7 258.7,812.7 259.6,812.7 260.5,812.6 261.3,812.6 262.2,812.6 263.1,812.6 263.9,812.6 264.8,812.6 265.7,812.6 266.6,812.6 267.4,812.6 268.3,812.5 269.2,812.5 270.0,812.5 270.9,812.5 271.8,812.5 272.7,812.5 273.5,812.5 274.4,812.4 275.3,812.4 276.1,812.4 277.0,812.4 277.9,812.4 278.8,812.4 279.6,812.3 280.5,812.3 281.4,812.3 282.2,812.3 283.1,812.3 284.0,812.3 284.9,812.2 285.7,812.2 286.6,812.2 287.5,812.2 288.3,812.2 289.2,812.1 290.1,812.1 291.0,812.1 291.8,812.1 292.7,812.0 293.6,812.0 294.5,812.0 295.3,812.0 296.2,812.0 297.1,811.9 297.9,811.9 298.8,811.9 299.7,811.9 300.6,811.8 301.4,811.8 302.3,811.8 303.2,811.8 304.0,811.7 304.9,811.7 305.8,811.7 306.7,811.6 307.5,811.6 308.4,811.6 309.3,811.5 310.1,811.5 311.0,811.5 311.9,811.5 312.8,811.4 313.6,811.4 314.5,811.4 315.4,811.3 316.2,811.3 317.1,811.2 318.0,811.2 318.9,811.2 319.7,811.1 320.6,811.1 321.5,811.1 322.3,811.0 323.2,811.0 324.1,810.9 325.0,810.9 325.8,810.8 326.7,810.8 327.6,810.8 328.5,810.7 329.3,810.7 330.2,810.6 331.1,810.6 331.9,810.5 332.8,810.5 333.7,810.4 334.6,810.4 335.4,810.3 336.3,810.3 337.2,810.2 338.0,810.2 338.9,810.1 339.8,810.0 340.7,810.0 341.5,809.9 342.4,809.9 343.3,809.8 344.1,809.7 345.0,809.7 345.9,809.6 346.8,809.5 347.6,809.5 348.5,809.4 349.4,809.3 350.2,809.3 351.1,809.2 352.0,809.1 352.9,809.0 353.7,809.0 354.6,808.9 355.5,808.8 356.3,808.7 357.2,808.7 358.1,808.6 359.0,808.5 359.8,808.4 360.7,808.3 361.6,808.2 362.5,808.1 363.3,808.0 364.2,807.9 365.1,807.9 365.9,807.8 366.8,807.7 367.7,807.6 368.6,807.5 369.4,807.4 370.3,807.2 371.2,807.1 372.0,807.0 372.9,806.9 373.8,806.8 374.7,806.7 375.5,806.6 376.4,806.5 377.3,806.3 378.1,806.2 379.0,806.1 379.9,806.0 380.8,805.8 381.6,805.7 382.5,805.6 383.4,805.4 384.2,805.3 385.1,805.2 386.0,805.0 386.9,804.9 387.7,804.7 388.6,804.6 389.5,804.4 390.3,804.3 391.2,804.1 392.1,804.0 393.0,803.8 393.8,803.6 394.7,803.5 395.6,803.3 396.5,803.1 397.3,802.9 398.2,802.8 399.1,802.6 399.9,802.4 400.8,802.2 401.7,802.0 402.6,801.8 403.4,801.6 404.3,801.4 405.2,801.2 406.0,801.0 406.9,800.8 407.8,800.6 408.7,800.4 409.5,800.2 410.4,800.0 411.3,799.8 412.1,799.5 413.0,799.3 413.9,799.1 414.8,798.8 415.6,798.6 416.5,798.4 417.4,798.1 418.2,797.9 419.1,797.6 420.0,797.4 420.9,797.1 421.7,796.8 422.6,796.6 423.5,796.3 424.4,796.0 425.2,795.7 426.1,795.5 427.0,795.2 427.8,794.9 428.7,794.6 429.6,794.3 430.5,794.0 431.3,793.7 432.2,793.4 433.1,793.1 433.9,792.8 434.8,792.5 435.7,792.2 436.6,791.8 437.4,791.5 438.3,791.2 439.2,790.9 440.0,790.5 440.9,790.2 441.8,789.9 442.7,789.5 443.5,789.2 444.4,788.8 445.3,788.5 446.1,788.1 447.0,787.8 447.9,787.4 448.8,787.0 449.6,786.7 450.5,786.3 451.4,785.9 452.2,785.6 453.1,785.2 454.0,784.8 454.9,784.4 455.7,784.0 456.6,783.7 457.5,783.3 458.4,782.9 459.2,782.5 460.1,782.1 461.0,781.7 461.8,781.4 462.7,781.0 463.6,780.6 464.5,780.2 465.3,779.8 466.2,779.4 467.1,779.0 467.9,778.6 468.8,778.2 469.7,777.9 470.6,777.5 471.4,777.1 472.3,776.7 473.2,776.3 474.0,776.0 474.9,775.6 475.8,775.2 476.7,774.9 477.5,774.5 478.4,774.2 479.3,773.8 480.1,773.5 481.0,773.1 481.9,772.8 482.8,772.5 483.6,772.2 484.5,771.9 485.4,771.6 486.2,771.3 487.1,771.0 488.0,770.7 488.9,770.4 489.7,770.2 490.6,770.0 491.5,769.7 492.4,769.5 493.2,769.3 494.1,769.1 495.0,768.9 495.8,768.8 496.7,768.6 497.6,768.5 498.5,768.4 499.3,768.3 500.2,768.2 501.1,768.2 501.9,768.1 502.8,768.1 503.7,768.1 504.6,768.2 505.4,768.2 506.3,768.3 507.2,768.4 508.0,768.5 508.9,768.6 509.8,768.8 510.7,769.0 511.5,769.3 512.4,769.5 513.3,769.8 514.1,770.1 515.0,770.5 515.9,770.9 516.8,771.3 517.6,771.7 518.5,772.2 519.4,772.7 520.2,773.3 521.1,773.9 522.0,774.5 522.9,775.2 523.7,775.9 524.6,776.6 525.5,777.4 526.4,778.3 527.2,779.1 528.1,780.0 529.0,781.0 529.8,782.0 530.7,783.0 531.6,784.1 532.5,785.3 533.3,786.4 534.2,787.7 535.1,788.9 535.9,790.2 536.8,791.6 537.7,793.0 538.6,794.5 539.4,796.0 540.3,797.5 541.2,799.1 542.0,800.7 542.9,802.4 543.8,804.2 544.7,805.9 545.5,807.8 546.4,809.6 547.3,811.5 548.1,813.5 549.0,815.5 549.9,817.6 550.8,819.6 551.6,821.8 552.5,823.9 553.4,826.1 554.2,828.4 555.1,830.7 556.0,833.0 556.9,835.3 557.7,837.7 558.6,840.1 559.5,842.6 560.4,845.0 561.2,847.5 562.1,850.0 563.0,852.6 563.8,855.1 564.7,857.7 565.6,860.3 566.5,862.9 567.3,865.5 568.2,868.2 569.1,870.8 569.9,873.4 570.8,876.1 571.7,878.7 572.6,881.3 573.4,883.9 574.3,886.5 575.2,889.1 576.0,891.7 576.9,894.3 577.8,896.8 578.7,899.4 579.5,901.8 580.4,904.3 581.3,906.7 582.1,909.1 583.0,911.5 583.9,913.8 584.8,916.0 585.6,918.2 586.5,920.4 587.4,922.5 588.2,924.6 589.1,926.6 590.0,928.5 590.9,930.3 591.7,932.1 592.6,933.9 593.5,935.5 594.4,937.1 595.2,938.6 596.1,940.0 597.0,941.4 597.8,942.6 598.7,943.8 599.6,944.9 600.5,945.9 601.3,946.8 602.2,947.6 603.1,948.3 603.9,948.9 604.8,949.4 605.7,949.9 606.6,950.2 607.4,950.5 608.3,950.6 609.2,950.7 610.0,950.6 610.9,950.5 611.8,950.2 612.7,949.9 613.5,949.4 614.4,948.9 615.3,948.3 616.1,947.6 617.0,946.8 617.9,945.9 618.8,944.9 619.6,943.8 620.5,942.6 621.4,941.4 622.2,940.0 623.1,938.6 624.0,937.1 624.9,935.5 625.7,933.9 626.6,932.1 627.5,930.3 628.4,928.5 629.2,926.6 630.1,924.6 631.0,922.5 631.8,920.4 632.7,918.2 633.6,916.0 634.5,913.8 635.3,911.5 636.2,909.1 637.1,906.7 637.9,904.3 638.8,901.8 639.7,899.4 640.6,896.8 641.4,894.3 642.3,891.7 643.2,889.1 644.0,886.5 644.9,883.9 645.8,881.3 646.7,878.7 647.5,876.1 648.4,873.4 649.3,870.8 650.1,868.2 651.0,865.5 651.9,862.9 652.8,860.3 653.6,857.7 654.5,855.1 655.4,852.6 656.2,850.0 657.1,847.5 658.0,845.0 658.9,842.6 659.7,840.1 660.6,837.7 661.5,835.3 662.4,833.0 663.2,830.7 664.1,828.4 665.0,826.1 665.8,823.9 666.7,821.8 667.6,819.6 668.5,817.6 669.3,815.5 670.2,813.5 671.1,811.5 671.9,809.6 672.8,807.8 673.7,805.9 674.6,804.2 675.4,802.4 676.3,800.7 677.2,799.1 678.0,797.5 678.9,796.0 679.8,794.5 680.7,793.0 681.5,791.6 682.4,790.2 683.3,788.9 684.1,787.7 685.0,786.4 685.9,785.3 686.8,784.1 687.6,783.0 688.5,782.0 689.4,781.0 690.2,780.0 691.1,779.1 692.0,778.3 692.9,777.4 693.7,776.6 694.6,775.9 695.5,775.2 696.4,774.5 697.2,773.9 698.1,773.3 699.0,772.7 699.8,772.2 700.7,771.7 701.6,771.3 702.5,770.9 703.3,770.5 704.2,770.1 705.1,769.8 705.9,769.5 706.8,769.3 707.7,769.0 708.6,768.8 709.4,768.6 710.3,768.5 711.2,768.4 712.0,768.3 712.9,768.2 713.8,768.2 714.7,768.1 715.5,768.1 716.4,768.1 717.3,768.2 718.1,768.2 719.0,768.3 719.9,768.4 720.8,768.5 721.6,768.6 722.5,768.8 723.4,768.9 724.2,769.1 725.1,769.3 726.0,769.5 726.9,769.7 727.7,770.0 728.6,770.2 729.5,770.4 730.4,770.7 731.2,771.0 732.1,771.3 733.0,771.6 733.8,771.9 734.7,772.2 735.6,772.5 736.5,772.8 737.3,773.1 738.2,773.5 739.1,773.8 739.9,774.2 740.8,774.5 741.7,774.9 742.6,775.2 743.4,775.6 744.3,776.0 745.2,776.3 746.0,776.7 746.9,777.1 747.8,777.5 748.7,777.9 749.5,778.2 750.4,778.6 751.3,779.0 752.1,779.4 753.0,779.8 753.9,780.2 754.8,780.6 755.6,781.0 756.5,781.4 757.4,781.7 758.2,782.1 759.1,782.5 760.0,782.9 760.9,783.3 761.7,783.7 762.6,784.0 763.5,784.4 764.4,784.8 765.2,785.2 766.1,785.6 767.0,785.9 767.8,786.3 768.7,786.7 769.6,787.0 770.5,787.4 771.3,787.8 772.2,788.1 773.1,788.5 773.9,788.8 774.8,789.2 775.7,789.5 776.6,789.9 777.4,790.2 778.3,790.5 779.2,790.9 780.0,791.2 780.9,791.5 781.8,791.8 782.7,792.2 783.5,792.5 784.4,792.8 785.3,793.1 786.1,793.4 787.0,793.7 787.9,794.0 788.8,794.3 789.6,794.6 790.5,794.9 791.4,795.2 792.2,795.5 793.1,795.7 794.0,796.0 794.9,796.3 795.7,796.6 796.6,796.8 797.5,797.1 798.4,797.4 799.2,797.6 800.1,797.9 801.0,798.1 801.8,798.4 802.7,798.6 803.6,798.8 804.5,799.1 805.3,799.3 806.2,799.5 807.1,799.8 807.9,800.0 808.8,800.2 809.7,800.4 810.6,800.6 811.4,800.8 812.3,801.0 813.2,801.2 814.0,801.4 814.9,801.6 815.8,801.8 816.7,802.0 817.5,802.2 818.4,802.4 819.3,802.6 820.1,802.8 821.0,802.9 821.9,803.1 822.8,803.3 823.6,803.5 824.5,803.6 825.4,803.8 826.2,804.0 827.1,804.1 828.0,804.3 828.9,804.4 829.7,804.6 830.6,804.7 831.5,804.9 832.4,805.0 833.2,805.2 834.1,805.3 835.0,805.4 835.8,805.6 836.7,805.7 837.6,805.8 838.5,806.0 839.3,806.1 840.2,806.2 841.1,806.3 841.9,806.5 842.8,806.6 843.7,806.7 844.6,806.8 845.4,806.9 846.3,807.0 847.2,807.1 848.0,807.2 848.9,807.4 849.8,807.5 850.7,807.6 851.5,807.7 852.4,807.8 853.3,807.9 854.1,807.9 855.0,808.0 855.9,808.1 856.8,808.2 857.6,808.3 858.5,808.4 859.4,808.5 860.3,808.6 861.1,808.7 862.0,808.7 862.9,808.8 863.7,808.9 864.6,809.0 865.5,809.0 866.4,809.1 867.2,809.2 868.1,809.3"/>
<polyline fill="none" stroke="#ff00ff" stroke-width="2.2" stroke-linejoin="round" marker-start="url(#mk4)" marker-mid="url(#mk4)" points="206.4,813.6 207.3,813.6 208.1,813.6 209.0,813.6 209.9,813.6 210.8,813.6 211.6,813.6 212.5,813.6 213.4,813.6 214.2,813.6 215.1,813.6 216.0,813.6 216.9,813.6 217.7,813.6 218.6,813.6 219.5,813.6 220.3,813.6 221.2,813.6 222.1,813.7 223.0,813.7 223.8,813.7 224.7,813.7 225.6,813.7 226.5,813.7 227.3,813.7 228.2,813.7 229.1,813.7 229.9,813.7 230.8,813.7 231.7,813.7 232.6,813.7 233.4,813.7 234.3,813.7 235.2,813.7 236.0,813.7 236.9,813.7 237.8,813.7 238.7,813.7 239.5,813.7 240.4,813.8 241.3,813.8 242.1,813.8 243.0,813.8 243.9,813.8 244.8,813.8 245.6,813.8 246.5,813.8 247.4,813.8 248.2,813.8 249.1,813.8 250.0,813.8 250.9,813.8 251.7,813.8 252.6,813.9 253.5,813.9 254.3,813.9 255.2,813.9 256.1,813.9 257.0,813.9 257.8,813.9 258.7,813.9 259.6,813.9 260.5,813.9 261.3,813.9 262.2,813.9 263.1,814.0 263.9,814.0 264.8,814.0 265.7,814.0 266.6,814.0 267.4,814.0 268.3,814.0 269.2,814.0 270.0,814.0 270.9,814.1 271.8,814.1 272.7,814.1 273.5,814.1 274.4,814.1 275.3,814.1 276.1,814.1 277.0,814.1 277.9,814.1 278.8,814.2 279.6,814.2 280.5,814.2 281.4,814.2 282.2,814.2 283.1,814.2 284.0,814.2 284.9,814.3 285.7,814.3 286.6,814.3 287.5,814.3 288.3,814.3 289.2,814.3 290.1,814.4 291.0,814.4 291.8,814.4 292.7,814.4 293.6,814.4 294.5,814.4 295.3,814.5 296.2,814.5 297.1,814.5 297.9,814.5 298.8,814.5 299.7,814.6 300.6,814.6 301.4,814.6 302.3,814.6 303.2,814.7 304.0,814.7 304.9,814.7 305.8,814.7 306.7,814.7 307.5,814.8 308.4,814.8 309.3,814.8 310.1,814.8 311.0,814.9 311.9,814.9 312.8,814.9 313.6,814.9 314.5,815.0 315.4,815.0 316.2,815.0 317.1,815.1 318.0,815.1 318.9,815.1 319.7,815.2 320.6,815.2 321.5,815.2 322.3,815.3 323.2,815.3 324.1,815.3 325.0,815.4 325.8,815.4 326.7,815.4 327.6,815.5 328.5,815.5 329.3,815.5 330.2,815.6 331.1,815.6 331.9,815.7 332.8,815.7 333.7,815.7 334.6,815.8 335.4,815.8 336.3,815.9 337.2,815.9 338.0,815.9 338.9,816.0 339.8,816.0 340.7,816.1 341.5,816.1 342.4,816.2 343.3,816.2 344.1,816.3 345.0,816.3 345.9,816.4 346.8,816.4 347.6,816.5 348.5,816.5 349.4,816.6 350.2,816.7 351.1,816.7 352.0,816.8 352.9,816.8 353.7,816.9 354.6,817.0 355.5,817.0 356.3,817.1 357.2,817.1 358.1,817.2 359.0,817.3 359.8,817.3 360.7,817.4 361.6,817.5 362.5,817.6 363.3,817.6 364.2,817.7 365.1,817.8 365.9,817.9 366.8,817.9 367.7,818.0 368.6,818.1 369.4,818.2 370.3,818.3 371.2,818.3 372.0,818.4 372.9,818.5 373.8,818.6 374.7,818.7 375.5,818.8 376.4,818.9 377.3,818.9 378.1,819.0 379.0,819.1 379.9,819.2 380.8,819.3 381.6,819.4 382.5,819.5 383.4,819.6 384.2,819.7 385.1,819.8 386.0,819.9 386.9,820.1 387.7,820.2 388.6,820.3 389.5,820.4 390.3,820.5 391.2,820.6 392.1,820.7 393.0,820.8 393.8,821.0 394.7,821.1 395.6,821.2 396.5,821.3 397.3,821.4 398.2,821.6 399.1,821.7 399.9,821.8 400.8,822.0 401.7,822.1 402.6,822.2 403.4,822.4 404.3,822.5 405.2,822.6 406.0,822.8 406.9,822.9 407.8,823.0 408.7,823.2 409.5,823.3 410.4,823.5 411.3,823.6 412.1,823.8 413.0,823.9 413.9,824.1 414.8,824.2 415.6,824.4 416.5,824.5 417.4,824.7 418.2,824.8 419.1,825.0 420.0,825.1 420.9,825.3 421.7,825.4 422.6,825.6 423.5,825.8 424.4,825.9 425.2,826.1 426.1,826.2 427.0,826.4 427.8,826.5 428.7,826.7 429.6,826.9 430.5,827.0 431.3,827.2 432.2,827.3 433.1,827.5 433.9,827.6 434.8,827.8 435.7,828.0 436.6,828.1 437.4,828.3 438.3,828.4 439.2,828.6 440.0,828.7 440.9,828.8 441.8,829.0 442.7,829.1 443.5,829.3 444.4,829.4 445.3,829.5 446.1,829.7 447.0,829.8 447.9,829.9 448.8,830.0 449.6,830.1 450.5,830.2 451.4,830.3 452.2,830.4 453.1,830.5 454.0,830.6 454.9,830.7 455.7,830.8 456.6,830.9 457.5,830.9 458.4,831.0 459.2,831.0 460.1,831.1 461.0,831.1 461.8,831.1 462.7,831.1 463.6,831.2 464.5,831.2 465.3,831.1 466.2,831.1 467.1,831.1 467.9,831.0 468.8,831.0 469.7,830.9 470.6,830.8 471.4,830.7 472.3,830.6 473.2,830.5 474.0,830.3 474.9,830.2 475.8,830.0 476.7,829.8 477.5,829.6 478.4,829.4 479.3,829.2 480.1,828.9 481.0,828.6 481.9,828.3 482.8,828.0 483.6,827.7 484.5,827.3 485.4,826.9 486.2,826.5 487.1,826.1 488.0,825.6 488.9,825.2 489.7,824.7 490.6,824.1 491.5,823.6 492.4,823.0 493.2,822.4 494.1,821.7 495.0,821.1 495.8,820.4 496.7,819.6 497.6,818.9 498.5,818.1 499.3,817.3 500.2,816.4 501.1,815.5 501.9,814.6 502.8,813.7 503.7,812.7 504.6,811.6 505.4,810.6 506.3,809.5 507.2,808.4 508.0,807.2 508.9,806.0 509.8,804.8 510.7,803.5 511.5,802.2 512.4,800.9 513.3,799.5 514.1,798.1 515.0,796.6 515.9,795.1 516.8,793.6 517.6,792.0 518.5,790.4 519.4,788.8 520.2,787.2 521.1,785.5 522.0,783.7 522.9,782.0 523.7,780.2 524.6,778.3 525.5,776.5 526.4,774.6 527.2,772.7 528.1,770.7 529.0,768.8 529.8,766.8 530.7,764.8 531.6,762.7 532.5,760.7 533.3,758.6 534.2,756.5 535.1,754.4 535.9,752.3 536.8,750.2 537.7,748.1 538.6,746.0 539.4,743.8 540.3,741.7 541.2,739.6 542.0,737.5 542.9,735.3 543.8,733.2 544.7,731.2 545.5,729.1 546.4,727.0 547.3,725.0 548.1,723.0 549.0,721.1 549.9,719.1 550.8,717.3 551.6,715.4 552.5,713.6 553.4,711.9 554.2,710.2 555.1,708.5 556.0,706.9 556.9,705.4 557.7,704.0 558.6,702.6 559.5,701.3 560.4,700.1 561.2,699.0 562.1,697.9 563.0,697.0 563.8,696.1 564.7,695.4 565.6,694.7 566.5,694.2 567.3,693.7 568.2,693.4 569.1,693.2 569.9,693.1 570.8,693.1 571.7,693.2 572.6,693.5 573.4,693.9 574.3,694.4 575.2,695.1 576.0,695.9 576.9,696.8 577.8,697.9 578.7,699.1 579.5,700.4 580.4,701.9 581.3,703.5 582.1,705.2 583.0,707.1 583.9,709.1 584.8,711.2 585.6,713.5 586.5,715.9 587.4,718.5 588.2,721.1 589.1,723.9 590.0,726.9 590.9,729.9 591.7,733.0 592.6,736.3 593.5,739.7 594.4,743.2 595.2,746.7 596.1,750.4 597.0,754.2 597.8,758.0 598.7,762.0 599.6,766.0 600.5,770.1 601.3,774.2 602.2,778.4 603.1,782.7 603.9,787.0 604.8,791.3 605.7,795.7 606.6,800.1 607.4,804.5 608.3,809.0 609.2,813.4 610.0,817.8 610.9,822.3 611.8,826.7 612.7,831.1 613.5,835.5 614.4,839.8 615.3,844.1 616.1,848.4 617.0,852.6 617.9,856.7 618.8,860.8 619.6,864.8 620.5,868.8 621.4,872.6 622.2,876.4 623.1,880.1 624.0,883.6 624.9,887.1 625.7,890.5 626.6,893.8 627.5,896.9 628.4,899.9 629.2,902.9 630.1,905.7 631.0,908.3 631.8,910.9 632.7,913.3 633.6,915.6 634.5,917.7 635.3,919.7 636.2,921.6 637.1,923.3 637.9,924.9 638.8,926.4 639.7,927.7 640.6,928.9 641.4,930.0 642.3,930.9 643.2,931.7 644.0,932.4 644.9,932.9 645.8,933.3 646.7,933.6 647.5,933.7 648.4,933.7 649.3,933.6 650.1,933.4 651.0,933.1 651.9,932.6 652.8,932.1 653.6,931.4 654.5,930.7 655.4,929.8 656.2,928.9 657.1,927.8 658.0,926.7 658.9,925.5 659.7,924.2 660.6,922.8 661.5,921.4 662.4,919.9 663.2,918.3 664.1,916.6 665.0,914.9 665.8,913.2 666.7,911.4 667.6,909.5 668.5,907.7 669.3,905.7 670.2,903.8 671.1,901.8 671.9,899.8 672.8,897.7 673.7,895.6 674.6,893.6 675.4,891.5 676.3,889.3 677.2,887.2 678.0,885.1 678.9,883.0 679.8,880.8 680.7,878.7 681.5,876.6 682.4,874.5 683.3,872.4 684.1,870.3 685.0,868.2 685.9,866.1 686.8,864.1 687.6,862.0 688.5,860.0 689.4,858.0 690.2,856.1 691.1,854.1 692.0,852.2 692.9,850.3 693.7,848.5 694.6,846.6 695.5,844.8 696.4,843.1 697.2,841.3 698.1,839.6 699.0,838.0 699.8,836.4 700.7,834.8 701.6,833.2 702.5,831.7 703.3,830.2 704.2,828.7 705.1,827.3 705.9,825.9 706.8,824.6 707.7,823.3 708.6,822.0 709.4,820.8 710.3,819.6 711.2,818.4 712.0,817.3 712.9,816.2 713.8,815.2 714.7,814.1 715.5,813.1 716.4,812.2 717.3,811.3 718.1,810.4 719.0,809.5 719.9,808.7 720.8,807.9 721.6,807.2 722.5,806.4 723.4,805.7 724.2,805.1 725.1,804.4 726.0,803.8 726.9,803.2 727.7,802.7 728.6,802.1 729.5,801.6 730.4,801.2 731.2,800.7 732.1,800.3 733.0,799.9 733.8,799.5 734.7,799.1 735.6,798.8 736.5,798.5 737.3,798.2 738.2,797.9 739.1,797.6 739.9,797.4 740.8,797.2 741.7,797.0 742.6,796.8 743.4,796.6 744.3,796.5 745.2,796.3 746.0,796.2 746.9,796.1 747.8,796.0 748.7,795.9 749.5,795.8 750.4,795.8 751.3,795.7 752.1,795.7 753.0,795.7 753.9,795.6 754.8,795.6 755.6,795.7 756.5,795.7 757.4,795.7 758.2,795.7 759.1,795.8 760.0,795.8 760.9,795.9 761.7,795.9 762.6,796.0 763.5,796.1 764.4,796.2 765.2,796.3 766.1,796.4 767.0,796.5 767.8,796.6 768.7,796.7 769.6,796.8 770.5,796.9 771.3,797.0 772.2,797.1 773.1,797.3 773.9,797.4 774.8,797.5 775.7,797.7 776.6,797.8 777.4,798.0 778.3,798.1 779.2,798.2 780.0,798.4 780.9,798.5 781.8,798.7 782.7,798.8 783.5,799.0 784.4,799.2 785.3,799.3 786.1,799.5 787.0,799.6 787.9,799.8 788.8,799.9 789.6,800.1 790.5,800.3 791.4,800.4 792.2,800.6 793.1,800.7 794.0,800.9 794.9,801.0 795.7,801.2 796.6,801.4 797.5,801.5 798.4,801.7 799.2,801.8 800.1,802.0 801.0,802.1 801.8,802.3 802.7,802.4 803.6,802.6 804.5,802.7 805.3,802.9 806.2,803.0 807.1,803.2 807.9,803.3 808.8,803.5 809.7,803.6 810.6,803.8 811.4,803.9 812.3,804.0 813.2,804.2 814.0,804.3 814.9,804.4 815.8,804.6 816.7,804.7 817.5,804.8 818.4,805.0 819.3,805.1 820.1,805.2 821.0,805.4 821.9,805.5 822.8,805.6 823.6,805.7 824.5,805.8 825.4,806.0 826.2,806.1 827.1,806.2 828.0,806.3 828.9,806.4 829.7,806.5 830.6,806.6 831.5,806.7 832.4,806.9 833.2,807.0 834.1,807.1 835.0,807.2 835.8,807.3 836.7,807.4 837.6,807.5 838.5,807.6 839.3,807.7 840.2,807.8 841.1,807.9 841.9,807.9 842.8,808.0 843.7,808.1 844.6,808.2 845.4,808.3 846.3,808.4 847.2,808.5 848.0,808.5 848.9,808.6 849.8,808.7 850.7,808.8 851.5,808.9 852.4,808.9 853.3,809.0 854.1,809.1 855.0,809.2 855.9,809.2 856.8,809.3 857.6,809.4 858.5,809.5 859.4,809.5 860.3,809.6 861.1,809.7 862.0,809.7 862.9,809.8 863.7,809.8 864.6,809.9 865.5,810.0 866.4,810.0 867.2,810.1 868.1,810.1"/>
<polyline fill="none" stroke="#808000" stroke-width="2.2" stroke-linejoin="round" marker-start="url(#mk5)" marker-mid="url(#mk5)" points="206.4,813.3 207.3,813.3 208.1,813.3 209.0,813.3 209.9,813.3 210.8,813.2 211.6,813.2 212.5,813.2 213.4,813.2 214.2,813.2 215.1,813.2 216.0,813.2 216.9,813.2 217.7,813.2 218.6,813.2 219.5,813.2 220.3,813.2 221.2,813.2 222.1,813.2 223.0,813.2 223.8,813.2 224.7,813.2 225.6,813.2 226.5,813.2 227.3,813.2 228.2,813.2 229.1,813.2 229.9,813.2 230.8,813.2 231.7,813.2 232.6,813.2 233.4,813.2 234.3,813.2 235.2,813.1 236.0,813.1 236.9,813.1 237.8,813.1 238.7,813.1 239.5,813.1 240.4,813.1 241.3,813.1 242.1,813.1 243.0,813.1 243.9,813.1 244.8,813.1 245.6,813.1 246.5,813.1 247.4,813.1 248.2,813.1 249.1,813.1 250.0,813.1 250.9,813.1 251.7,813.0 252.6,813.0 253.5,813.0 254.3,813.0 255.2,813.0 256.1,813.0 257.0,813.0 257.8,813.0 258.7,813.0 259.6,813.0 260.5,813.0 261.3,813.0 262.2,813.0 263.1,813.0 263.9,812.9 264.8,812.9 265.7,812.9 266.6,812.9 267.4,812.9 268.3,812.9 269.2,812.9 270.0,812.9 270.9,812.9 271.8,812.9 272.7,812.9 273.5,812.8 274.4,812.8 275.3,812.8 276.1,812.8 277.0,812.8 277.9,812.8 278.8,812.8 279.6,812.8 280.5,812.8 281.4,812.7 282.2,812.7 283.1,812.7 284.0,812.7 284.9,812.7 285.7,812.7 286.6,812.7 287.5,812.7 288.3,812.6 289.2,812.6 290.1,812.6 291.0,812.6 291.8,812.6 292.7,812.6 293.6,812.6 294.5,812.5 295.3,812.5 296.2,812.5 297.1,812.5 297.9,812.5 298.8,812.5 299.7,812.4 300.6,812.4 301.4,812.4 302.3,812.4 303.2,812.4 304.0,812.3 304.9,812.3 305.8,812.3 306.7,812.3 307.5,812.3 308.4,812.2 309.3,812.2 310.1,812.2 311.0,812.2 311.9,812.2 312.8,812.1 313.6,812.1 314.5,812.1 315.4,812.1 316.2,812.0 317.1,812.0 318.0,812.0 318.9,812.0 319.7,811.9 320.6,811.9 321.5,811.9 322.3,811.9 323.2,811.8 324.1,811.8 325.0,811.8 325.8,811.8 326.7,811.7 327.6,811.7 328.5,811.7 329.3,811.6 330.2,811.6 331.1,811.6 331.9,811.5 332.8,811.5 333.7,811.5 334.6,811.4 335.4,811.4 336.3,811.4 337.2,811.3 338.0,811.3 338.9,811.3 339.8,811.2 340.7,811.2 341.5,811.2 342.4,811.1 343.3,811.1 344.1,811.0 345.0,811.0 345.9,811.0 346.8,810.9 347.6,810.9 348.5,810.8 349.4,810.8 350.2,810.7 351.1,810.7 352.0,810.7 352.9,810.6 353.7,810.6 354.6,810.5 355.5,810.5 356.3,810.4 357.2,810.4 358.1,810.3 359.0,810.3 359.8,810.2 360.7,810.2 361.6,810.1 362.5,810.1 363.3,810.0 364.2,810.0 365.1,809.9 365.9,809.9 366.8,809.8 367.7,809.8 368.6,809.7 369.4,809.6 370.3,809.6 371.2,809.5 372.0,809.5 372.9,809.4 373.8,809.3 374.7,809.3 375.5,809.2 376.4,809.2 377.3,809.1 378.1,809.0 379.0,809.0 379.9,808.9 380.8,808.8 381.6,808.8 382.5,808.7 383.4,808.7 384.2,808.6 385.1,808.5 386.0,808.5 386.9,808.4 387.7,808.3 388.6,808.3 389.5,808.2 390.3,808.1 391.2,808.1 392.1,808.0 393.0,807.9 393.8,807.9 394.7,807.8 395.6,807.7 396.5,807.7 397.3,807.6 398.2,807.5 399.1,807.5 399.9,807.4 400.8,807.3 401.7,807.3 402.6,807.2 403.4,807.1 404.3,807.1 405.2,807.0 406.0,807.0 406.9,806.9 407.8,806.8 408.7,806.8 409.5,806.7 410.4,806.7 411.3,806.6 412.1,806.6 413.0,806.5 413.9,806.5 414.8,806.4 415.6,806.4 416.5,806.3 417.4,806.3 418.2,806.3 419.1,806.2 420.0,806.2 420.9,806.2 421.7,806.1 422.6,806.1 423.5,806.1 424.4,806.1 425.2,806.1 426.1,806.1 427.0,806.1 427.8,806.1 428.7,806.1 429.6,806.1 430.5,806.1 431.3,806.1 432.2,806.1 433.1,806.2 433.9,806.2 434.8,806.2 435.7,806.3 436.6,806.4 437.4,806.4 438.3,806.5 439.2,806.6 440.0,806.7 440.9,806.8 441.8,806.9 442.7,807.0 443.5,807.1 444.4,807.2 445.3,807.4 446.1,807.5 447.0,807.7 447.9,807.8 448.8,808.0 449.6,808.2 450.5,808.4 451.4,808.7 452.2,808.9 453.1,809.1 454.0,809.4 454.9,809.7 455.7,810.0 456.6,810.3 457.5,810.6 458.4,810.9 459.2,811.3 460.1,811.7 461.0,812.0 461.8,812.4 462.7,812.9 463.6,813.3 464.5,813.8 465.3,814.3 466.2,814.8 467.1,815.3 467.9,815.8 468.8,816.4 469.7,817.0 470.6,817.6 471.4,818.2 472.3,818.9 473.2,819.5 474.0,820.2 474.9,821.0 475.8,821.7 476.7,822.5 477.5,823.3 478.4,824.1 479.3,825.0 480.1,825.9 481.0,826.8 481.9,827.7 482.8,828.7 483.6,829.7 484.5,830.7 485.4,831.7 486.2,832.8 487.1,833.9 488.0,835.1 488.9,836.2 489.7,837.4 490.6,838.6 491.5,839.9 492.4,841.2 493.2,842.5 494.1,843.8 495.0,845.1 495.8,846.5 496.7,847.9 497.6,849.4 498.5,850.8 499.3,852.3 500.2,853.8 501.1,855.3 501.9,856.9 502.8,858.4 503.7,860.0 504.6,861.6 505.4,863.3 506.3,864.9 507.2,866.5 508.0,868.2 508.9,869.9 509.8,871.5 510.7,873.2 511.5,874.9 512.4,876.6 513.3,878.3 514.1,880.0 515.0,881.7 515.9,883.3 516.8,885.0 517.6,886.6 518.5,888.3 519.4,889.9 520.2,891.5 521.1,893.0 522.0,894.6 522.9,896.0 523.7,897.5 524.6,898.9 525.5,900.3 526.4,901.6 527.2,902.9 528.1,904.1 529.0,905.2 529.8,906.3 530.7,907.3 531.6,908.2 532.5,909.1 533.3,909.8 534.2,910.5 535.1,911.1 535.9,911.6 536.8,911.9 537.7,912.2 538.6,912.4 539.4,912.4 540.3,912.3 541.2,912.1 542.0,911.7 542.9,911.2 543.8,910.6 544.7,909.9 545.5,908.9 546.4,907.9 547.3,906.6 548.1,905.3 549.0,903.7 549.9,902.0 550.8,900.1 551.6,898.1 552.5,895.8 553.4,893.4 554.2,890.9 555.1,888.1 556.0,885.2 556.9,882.1 557.7,878.8 558.6,875.3 559.5,871.7 560.4,867.9 561.2,863.9 562.1,859.7 563.0,855.4 563.8,850.9 564.7,846.2 565.6,841.4 566.5,836.5 567.3,831.3 568.2,826.1 569.1,820.7 569.9,815.2 570.8,809.5 571.7,803.8 572.6,797.9 573.4,792.0 574.3,785.9 575.2,779.8 576.0,773.6 576.9,767.4 577.8,761.1 578.7,754.8 579.5,748.4 580.4,742.1 581.3,735.7 582.1,729.4 583.0,723.1 583.9,716.8 584.8,710.6 585.6,704.4 586.5,698.4 587.4,692.4 588.2,686.5 589.1,680.8 590.0,675.1 590.9,669.7 591.7,664.3 592.6,659.2 593.5,654.2 594.4,649.4 595.2,644.9 596.1,640.5 597.0,636.4 597.8,632.5 598.7,628.8 599.6,625.4 600.5,622.3 601.3,619.5 602.2,616.9 603.1,614.6 603.9,612.6 604.8,610.9 605.7,609.5 606.6,608.5 607.4,607.7 608.3,607.2 609.2,607.1 610.0,607.2 610.9,607.7 611.8,608.5 612.7,609.5 613.5,610.9 614.4,612.6 615.3,614.6 616.1,616.9 617.0,619.5 617.9,622.3 618.8,625.4 619.6,628.8 620.5,632.5 621.4,636.4 622.2,640.5 623.1,644.9 624.0,649.4 624.9,654.2 625.7,659.2 626.6,664.3 627.5,669.7 628.4,675.1 629.2,680.8 630.1,686.5 631.0,692.4 631.8,698.4 632.7,704.4 633.6,710.6 634.5,716.8 635.3,723.1 636.2,729.4 637.1,735.7 637.9,742.1 638.8,748.4 639.7,754.8 640.6,761.1 641.4,767.4 642.3,773.6 643.2,779.8 644.0,785.9 644.9,792.0 645.8,797.9 646.7,803.8 647.5,809.5 648.4,815.2 649.3,820.7 650.1,826.1 651.0,831.3 651.9,836.5 652.8,841.4 653.6,846.2 654.5,850.9 655.4,855.4 656.2,859.7 657.1,863.9 658.0,867.9 658.9,871.7 659.7,875.3 660.6,878.8 661.5,882.1 662.4,885.2 663.2,888.1 664.1,890.9 665.0,893.4 665.8,895.8 666.7,898.1 667.6,900.1 668.5,902.0 669.3,903.7 670.2,905.3 671.1,906.6 671.9,907.9 672.8,908.9 673.7,909.9 674.6,910.6 675.4,911.2 676.3,911.7 677.2,912.1 678.0,912.3 678.9,912.4 679.8,912.4 680.7,912.2 681.5,911.9 682.4,911.6 683.3,911.1 684.1,910.5 685.0,909.8 685.9,909.1 686.8,908.2 687.6,907.3 688.5,906.3 689.4,905.2 690.2,904.1 691.1,902.9 692.0,901.6 692.9,900.3 693.7,898.9 694.6,897.5 695.5,896.0 696.4,894.6 697.2,893.0 698.1,891.5 699.0,889.9 699.8,888.3 700.7,886.6 701.6,885.0 702.5,883.3 703.3,881.7 704.2,880.0 705.1,878.3 705.9,876.6 706.8,874.9 707.7,873.2 708.6,871.5 709.4,869.9 710.3,868.2 711.2,866.5 712.0,864.9 712.9,863.3 713.8,861.6 714.7,860.0 715.5,858.4 716.4,856.9 717.3,855.3 718.1,853.8 719.0,852.3 719.9,850.8 720.8,849.4 721.6,847.9 722.5,846.5 723.4,845.1 724.2,843.8 725.1,842.5 726.0,841.2 726.9,839.9 727.7,838.6 728.6,837.4 729.5,836.2 730.4,835.1 731.2,833.9 732.1,832.8 733.0,831.7 733.8,830.7 734.7,829.7 735.6,828.7 736.5,827.7 737.3,826.8 738.2,825.9 739.1,825.0 739.9,824.1 740.8,823.3 741.7,822.5 742.6,821.7 743.4,821.0 744.3,820.2 745.2,819.5 746.0,818.9 746.9,818.2 747.8,817.6 748.7,817.0 749.5,816.4 750.4,815.8 751.3,815.3 752.1,814.8 753.0,814.3 753.9,813.8 754.8,813.3 755.6,812.9 756.5,812.4 757.4,812.0 758.2,811.7 759.1,811.3 760.0,810.9 760.9,810.6 761.7,810.3 762.6,810.0 763.5,809.7 764.4,809.4 765.2,809.1 766.1,808.9 767.0,808.7 767.8,808.4 768.7,808.2 769.6,808.0 770.5,807.8 771.3,807.7 772.2,807.5 773.1,807.4 773.9,807.2 774.8,807.1 775.7,807.0 776.6,806.9 777.4,806.8 778.3,806.7 779.2,806.6 780.0,806.5 780.9,806.4 781.8,806.4 782.7,806.3 783.5,806.2 784.4,806.2 785.3,806.2 786.1,806.1 787.0,806.1 787.9,806.1 788.8,806.1 789.6,806.1 790.5,806.1 791.4,806.1 792.2,806.1 793.1,806.1 794.0,806.1 794.9,806.1 795.7,806.1 796.6,806.1 797.5,806.2 798.4,806.2 799.2,806.2 800.1,806.3 801.0,806.3 801.8,806.3 802.7,806.4 803.6,806.4 804.5,806.5 805.3,806.5 806.2,806.6 807.1,806.6 807.9,806.7 808.8,806.7 809.7,806.8 810.6,806.8 811.4,806.9 812.3,807.0 813.2,807.0 814.0,807.1 814.9,807.1 815.8,807.2 816.7,807.3 817.5,807.3 818.4,807.4 819.3,807.5 820.1,807.5 821.0,807.6 821.9,807.7 822.8,807.7 823.6,807.8 824.5,807.9 825.4,807.9 826.2,808.0 827.1,808.1 828.0,808.1 828.9,808.2 829.7,808.3 830.6,808.3 831.5,808.4 832.4,808.5 833.2,808.5 834.1,808.6 835.0,808.7 835.8,808.7 836.7,808.8 837.6,808.8 838.5,808.9 839.3,809.0 840.2,809.0 841.1,809.1 841.9,809.2 842.8,809.2 843.7,809.3 844.6,809.3 845.4,809.4 846.3,809.5 847.2,809.5 848.0,809.6 848.9,809.6 849.8,809.7 850.7,809.8 851.5,809.8 852.4,809.9 853.3,809.9 854.1,810.0 855.0,810.0 855.9,810.1 856.8,810.1 857.6,810.2 858.5,810.2 859.4,810.3 860.3,810.3 861.1,810.4 862.0,810.4 862.9,810.5 863.7,810.5 864.6,810.6 865.5,810.6 866.4,810.7 867.2,810.7 868.1,810.7"/>
</g>
<g stroke="#000" fill="none" stroke-linecap="butt">
<path d="M204.9 389.0 H860" stroke-width="2.5"/><path d="M204.9 966.3 H860" stroke-width="2.7"/><path d="M206.3 387.75 V967.65" stroke-width="2.8"/>
</g>
<g font-family="Liberation Sans, sans-serif" font-size="24" fill="#000" stroke="#000" stroke-width="0.35">
<text transform="translate(198.4,437.6) scale(0.96,1)" text-anchor="end">0.20</text>
<text transform="translate(198.4,533.1) scale(0.96,1)" text-anchor="end">0.15</text>
<text transform="translate(198.4,628.7) scale(0.96,1)" text-anchor="end">0.10</text>
<text transform="translate(198.4,724.2) scale(0.96,1)" text-anchor="end">0.05</text>
<text transform="translate(198.4,819.7) scale(0.96,1)" text-anchor="end">0.00</text>
<text transform="translate(198.4,915.2) scale(0.96,1)" text-anchor="end">-0.05</text>
<text transform="translate(206.7,992.5) scale(0.955,1)" text-anchor="middle">106</text>
<text transform="translate(381.1,992.5) scale(0.955,1)" text-anchor="middle">108</text>
<text transform="translate(555.4,992.5) scale(0.955,1)" text-anchor="middle">110</text>
<text transform="translate(729.8,992.5) scale(0.955,1)" text-anchor="middle">112</text>
</g>
<g stroke="#000000" fill="#000000">
<path d="M797.8 425.25 H817.8 M840.5 425.25 H860" stroke-width="2.5" stroke-linecap="round" fill="none"/>
<rect x="826.5" y="422.8" width="5" height="5" stroke="none"/>
</g>
<g stroke="#ff0000" fill="#ff0000">
<path d="M797.8 481.05 H817.8 M840.5 481.05 H860" stroke-width="2.5" stroke-linecap="round" fill="none"/>
<circle cx="829.0" cy="481.1" r="2.8" stroke="none"/>
</g>
<g stroke="#0000ff" fill="#0000ff">
<path d="M797.8 536.85 H817.8 M840.5 536.85 H860" stroke-width="2.5" stroke-linecap="round" fill="none"/>
<path d="M829.0 533.1 l3.3 5.9 h-6.6z" stroke="none"/>
</g>
<g stroke="#008080" fill="#008080">
<path d="M797.8 592.65 H817.8 M840.5 592.65 H860" stroke-width="2.5" stroke-linecap="round" fill="none"/>
<path d="M829.0 595.9 l3.2 -5.6 h-6.4z" stroke="none"/>
</g>
<g stroke="#ff00ff" fill="#ff00ff">
<path d="M797.8 648.45 H817.8 M840.5 648.45 H860" stroke-width="2.5" stroke-linecap="round" fill="none"/>
<path d="M829.0 645.2 l3.3 3.3 l-3.3 3.3 l-3.3 -3.3z" stroke="none"/>
</g>
<g stroke="#808000" fill="#808000">
<path d="M797.8 704.25 H817.8 M840.5 704.25 H860" stroke-width="2.5" stroke-linecap="round" fill="none"/>
<path d="M825.3 704.2 l5.8 -3.2 v6.4z" stroke="none"/>
</g>
<g fill="#000" stroke="none">
<g transform="translate(0,900) rotate(-90)">
<path d="M39.00 87.53 A20.15 20.15 0 1 0 39.00 122.57 L39.00 113.35 A12.69 11.65 0 1 1 39.00 96.75 Z"/>
<rect x="46.8" y="110.3" width="7.5" height="25.3"/>
<path d="M50.5 122.2 A8.2 8.7 0 0 1 66.85 122.2 V135.6" fill="none" stroke="#000" stroke-width="7.5"/>
<path d="M89.1 84.9 A37.5 37.5 0 0 0 89.1 133.9 L92.8 130.6 A41.6 41.6 0 0 1 92.8 88.2 Z"/>
<path d="M96.7 85.8 L105.4 85.8 L114.9 110.9 L124.4 85.8 L133.1 85.8 L118.8 124.7 L111.0 124.7 Z"/>
<rect x="140.2" y="94" width="32.9" height="6.9"/><rect x="140.2" y="108.2" width="32.9" height="6.8"/>
<path d="M190.9 86.9 H199.1 V124.7 H190.9 V93.8 L185.1 93.8 L186.9 86.9 Z"/>
<ellipse cx="228.50" cy="105.5" rx="10.9" ry="15.85" fill="none" stroke="#000" stroke-width="7.6"/>
<ellipse cx="262.00" cy="105.5" rx="10.9" ry="15.85" fill="none" stroke="#000" stroke-width="7.6"/>
<path d="M287.35 124.7 V99 Q287.35 88.8 297.8 88.8" fill="none" stroke="#000" stroke-width="7.6"/>
<rect x="281.2" y="99.2" width="16.6" height="6.6"/>
<rect x="303.2" y="99.2" width="7.7" height="25.7"/>
<path d="M307.05 111.4 A8.1 9.2 0 0 1 323.25 111.4 V124.9 M323.25 111.4 A8.15 9.2 0 0 1 339.55 111.4 V124.9" fill="none" stroke="#000" stroke-width="7.7"/>
<clipPath id="c3"><rect x="351.3" y="60" width="30" height="40"/></clipPath>
<path clip-path="url(#c3)" d="M350.57 73.75 L350.83 73.03 L351.28 72.35 L351.91 71.72 L352.71 71.18 L353.63 70.73 L354.67 70.38 L355.78 70.16 L356.94 70.06 L358.11 70.08 L359.26 70.23 L360.35 70.51 L361.34 70.89 L362.22 71.38 L362.95 71.96 L363.52 72.61 L363.90 73.31 L364.08 74.04 L364.07 74.78 L363.85 75.51 L363.44 76.20 L362.84 76.84 L362.09 77.40 L361.19 77.88 L360.17 78.25 M360.20 80.49 L361.32 80.86 L362.32 81.36 L363.17 81.96 L363.86 82.64 L364.35 83.40 L364.63 84.20 L364.70 85.01 L364.54 85.83 L364.18 86.61 L363.61 87.34 L362.85 87.99 L361.93 88.55 L360.88 89.00 L359.72 89.32 L358.50 89.50 L357.25 89.55 L356.00 89.45 L354.80 89.21 L353.68 88.84 L352.68 88.34 L351.83 87.74 L351.14 87.06 L350.65 86.30 L350.37 85.50" fill="none" stroke="#000" stroke-width="4.0" stroke-linejoin="round"/>
<rect x="357.4" y="77.2" width="4.2" height="4.4"/>
<path d="M375.1 115.4 L382.7 115.4 L377.6 132.2 L372.5 132.2 Z"/>
<rect x="388.1" y="86.1" width="25.8" height="7.9"/><rect x="396.7" y="86.1" width="8.7" height="38.8"/>
<path d="M422.7 84.9 A37.5 37.5 0 0 1 422.7 133.9 L419.0 130.6 A41.6 41.6 0 0 0 419.0 88.2 Z"/>
</g>
<rect x="415.6" y="1006.6" width="26.3" height="8.5"/><rect x="424.2" y="1006.6" width="8.9" height="38.2"/>
<path d="M463 1006.4 H475.9 V1011.2 H469.1 V1049.1 H475.9 V1053.9 H463 Z"/>
<path d="M478.9 1044.7 L483.4 1006.6 L494.2 1006.6 L501.0 1028.2 L507.9 1006.6 L517.3 1006.6 L522.0 1044.7 L514.5 1044.7 L512.6 1017.4 L503.9 1044.7 L498.3 1044.7 L489.8 1017.4 L487.4 1044.7 Z"/>
<path d="M547.50 1032.50 A9.35 9.35 0 1 0 545.52 1038.26" fill="none" stroke="#000" stroke-width="7.5"/>
<rect x="531.15" y="1030.6" width="19.95" height="3.9"/>
<path d="M542.05 1036.80 L542.35 1035.80 L545.42 1036.53 L550.15 1038.95 L548.60 1040.70 L546.75 1042.10 Z"/>
<path d="M553.9 1006.6 L563.2 1006.6 L571.6 1031.8 L579.8 1006.6 L589.9 1006.6 L575.6 1045 L568.2 1045 Z"/>
<path d="M592 1006.6 H604.2 V1054 H592 V1049.8 H598.9 V1010.6 H592 Z"/>
</g>
</svg>
</body></html>
